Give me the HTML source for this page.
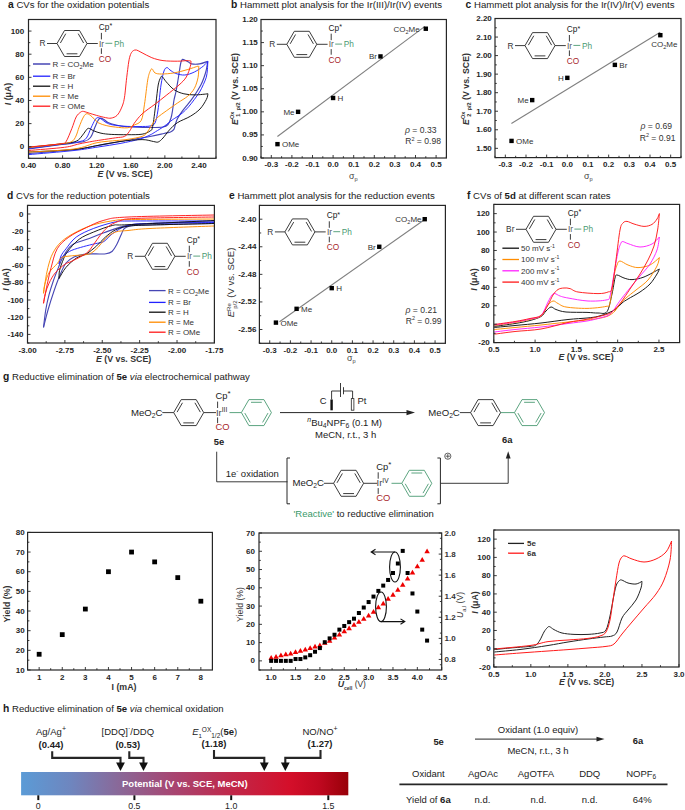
<!DOCTYPE html>
<html><head><meta charset="utf-8"><style>
html,body{margin:0;padding:0;background:#fff;}
svg{display:block;font-family:"Liberation Sans", sans-serif;}
</style></head><body>
<svg width="685" height="810" viewBox="0 0 685 810">
<rect width="685" height="810" fill="#fff"/>
<text x="8" y="8.2" font-size="9.6" fill="#1a1a1a"><tspan font-weight="bold" font-size="10.3">a</tspan> CVs for the oxidation potentials</text>
<path d="M28.70,149.00 C34.18,148.25 52.38,145.75 61.60,144.50 C70.82,143.25 79.13,142.75 84.00,141.50 C88.87,140.25 88.97,139.42 90.80,137.00 C92.63,134.58 93.80,129.75 95.00,127.00 C96.20,124.25 97.12,121.98 98.00,120.50 C98.88,119.02 99.30,118.27 100.30,118.10 C101.30,117.93 102.72,118.77 104.00,119.50 C105.28,120.23 106.17,121.62 108.00,122.50 C109.83,123.38 111.78,124.08 115.00,124.80 C118.22,125.52 121.47,126.35 127.30,126.80 C133.13,127.25 144.05,127.47 150.00,127.50 C155.95,127.53 160.00,127.50 163.00,127.00 C166.00,126.50 166.67,126.00 168.00,124.50 C169.33,123.00 170.23,120.42 171.00,118.00 C171.77,115.58 172.10,113.00 172.60,110.00 C173.10,107.00 173.45,103.00 174.00,100.00 C174.55,97.00 175.23,95.33 175.90,92.00 C176.57,88.67 177.38,83.70 178.00,80.00 C178.62,76.30 179.10,72.80 179.60,69.80 C180.10,66.80 180.50,63.73 181.00,62.00 C181.50,60.27 181.85,59.65 182.60,59.40 C183.35,59.15 184.52,60.07 185.50,60.50 C186.48,60.93 187.50,61.43 188.50,62.00 C189.50,62.57 189.65,63.58 191.50,63.90 C193.35,64.22 196.88,64.33 199.60,63.90 C202.32,63.47 206.43,61.73 207.80,61.30" stroke="#4646b4" stroke-width="1.15" fill="none" stroke-linejoin="round"/>
<path d="M207.80,61.30 C207.55,62.72 206.92,67.15 206.30,69.80 C205.68,72.45 204.97,74.73 204.10,77.20 C203.23,79.67 202.33,82.13 201.10,84.60 C199.87,87.07 198.18,89.65 196.70,92.00 C195.22,94.35 193.93,96.35 192.20,98.70 C190.47,101.05 188.15,103.75 186.30,106.10 C184.45,108.45 182.57,110.73 181.10,112.80 C179.63,114.87 178.43,116.63 177.50,118.50 C176.57,120.37 176.10,122.18 175.50,124.00 C174.90,125.82 174.73,128.07 173.90,129.40 C173.07,130.73 172.15,131.32 170.50,132.00 C168.85,132.68 167.42,132.75 164.00,133.50 C160.58,134.25 157.33,135.17 150.00,136.50 C142.67,137.83 128.67,140.00 120.00,141.50 C111.33,143.00 105.67,144.17 98.00,145.50 C90.33,146.83 85.55,148.17 74.00,149.50 C62.45,150.83 36.25,152.83 28.70,153.50" stroke="#4646b4" stroke-width="1.15" fill="none" stroke-linejoin="round"/>
<path d="M28.70,148.50 C34.18,147.78 53.05,145.37 61.60,144.20 C70.15,143.03 75.87,142.53 80.00,141.50 C84.13,140.47 84.57,140.25 86.40,138.00 C88.23,135.75 89.57,131.00 91.00,128.00 C92.43,125.00 93.87,121.73 95.00,120.00 C96.13,118.27 96.63,117.68 97.80,117.60 C98.97,117.52 100.63,118.68 102.00,119.50 C103.37,120.32 104.22,121.60 106.00,122.50 C107.78,123.40 109.15,124.25 112.70,124.90 C116.25,125.55 122.75,126.13 127.30,126.40 C131.85,126.67 136.22,126.57 140.00,126.50 C143.78,126.43 147.50,126.58 150.00,126.00 C152.50,125.42 153.67,125.67 155.00,123.00 C156.33,120.33 157.00,116.33 158.00,110.00 C159.00,103.67 160.00,91.50 161.00,85.00 C162.00,78.50 163.00,73.90 164.00,71.00 C165.00,68.10 166.00,67.77 167.00,67.60 C168.00,67.43 168.52,69.02 170.00,70.00 C171.48,70.98 173.43,72.67 175.90,73.50 C178.37,74.33 181.72,75.25 184.80,75.00 C187.88,74.75 191.32,73.48 194.40,72.00 C197.48,70.52 201.07,67.88 203.30,66.10 C205.53,64.32 207.05,62.10 207.80,61.30" stroke="#2222ff" stroke-width="0.95" fill="none" stroke-linejoin="round"/>
<path d="M207.80,61.30 C207.73,62.72 207.65,67.15 207.40,69.80 C207.15,72.45 206.98,74.73 206.30,77.20 C205.62,79.67 204.42,82.13 203.30,84.60 C202.18,87.07 201.08,89.53 199.60,92.00 C198.12,94.47 196.25,96.92 194.40,99.40 C192.55,101.88 190.47,104.67 188.50,106.90 C186.53,109.13 184.68,111.03 182.60,112.80 C180.52,114.57 177.73,116.30 176.00,117.50 C174.27,118.70 174.13,118.57 172.20,120.00 C170.27,121.43 167.17,124.15 164.40,126.10 C161.63,128.05 158.00,130.22 155.60,131.70 C153.20,133.18 152.60,133.78 150.00,135.00 C147.40,136.22 145.00,137.58 140.00,139.00 C135.00,140.42 127.00,142.17 120.00,143.50 C113.00,144.83 105.67,145.83 98.00,147.00 C90.33,148.17 85.55,149.23 74.00,150.50 C62.45,151.77 36.25,153.92 28.70,154.60" stroke="#2222ff" stroke-width="0.95" fill="none" stroke-linejoin="round"/>
<path d="M28.70,147.30 C34.18,146.72 53.68,144.82 61.60,143.80 C69.52,142.78 72.80,142.52 76.20,141.20 C79.60,139.88 80.42,137.63 82.00,135.90 C83.58,134.17 84.60,132.07 85.70,130.80 C86.80,129.53 87.27,128.30 88.60,128.30 C89.93,128.30 91.63,129.98 93.70,130.80 C95.77,131.62 98.08,132.60 101.00,133.20 C103.92,133.80 106.82,134.15 111.20,134.40 C115.58,134.65 122.15,134.73 127.30,134.70 C132.45,134.67 138.32,134.82 142.10,134.20 C145.88,133.58 148.25,132.25 150.00,131.00 C151.75,129.75 151.63,131.17 152.60,126.70 C153.57,122.23 154.87,111.15 155.80,104.20 C156.73,97.25 157.40,89.42 158.20,85.00 C159.00,80.58 159.93,79.10 160.60,77.70 C161.27,76.30 161.27,75.92 162.20,76.60 C163.13,77.28 164.20,79.60 166.20,81.80 C168.20,84.00 171.25,87.80 174.20,89.80 C177.15,91.80 180.42,92.95 183.90,93.80 C187.38,94.65 191.08,94.90 195.10,94.90 C199.12,94.90 205.85,93.98 208.00,93.80" stroke="#111" stroke-width="0.95" fill="none" stroke-linejoin="round"/>
<path d="M208.00,93.80 C207.73,94.73 207.73,96.87 206.40,99.40 C205.07,101.93 202.68,106.18 200.00,109.00 C197.32,111.82 194.07,114.02 190.30,116.30 C186.53,118.58 180.88,120.42 177.40,122.70 C173.92,124.98 171.80,127.45 169.40,130.00 C167.00,132.55 164.87,136.00 163.00,138.00 C161.13,140.00 159.80,141.42 158.20,142.00 C156.60,142.58 156.08,141.90 153.40,141.50 C150.72,141.10 147.67,139.60 142.10,139.60 C136.53,139.60 127.35,140.53 120.00,141.50 C112.65,142.47 105.67,144.07 98.00,145.40 C90.33,146.73 85.55,148.40 74.00,149.50 C62.45,150.60 36.25,151.58 28.70,152.00" stroke="#111" stroke-width="0.95" fill="none" stroke-linejoin="round"/>
<path d="M28.70,147.50 C34.18,146.88 54.42,144.80 61.60,143.80 C68.78,142.80 69.40,142.80 71.80,141.50 C74.20,140.20 74.78,138.40 76.00,136.00 C77.22,133.60 77.85,130.28 79.10,127.10 C80.35,123.92 82.17,119.13 83.50,116.90 C84.83,114.67 85.65,113.70 87.10,113.70 C88.55,113.70 90.37,115.40 92.20,116.90 C94.03,118.40 95.67,121.23 98.10,122.70 C100.53,124.17 103.88,124.97 106.80,125.70 C109.72,126.43 112.18,126.75 115.60,127.10 C119.02,127.45 124.22,128.13 127.30,127.80 C130.38,127.47 131.77,126.35 134.10,125.10 C136.43,123.85 139.57,123.78 141.30,120.30 C143.03,116.82 143.43,110.90 144.50,104.20 C145.57,97.50 146.77,85.58 147.70,80.10 C148.63,74.62 149.37,73.17 150.10,71.30 C150.83,69.43 151.28,68.63 152.10,68.90 C152.92,69.17 153.45,72.05 155.00,72.90 C156.55,73.75 158.20,74.00 161.40,74.00 C164.60,74.00 169.92,73.62 174.20,72.90 C178.48,72.18 183.08,70.85 187.10,69.70 C191.12,68.55 196.43,66.62 198.30,66.00" stroke="#ff8c00" stroke-width="0.95" fill="none" stroke-linejoin="round"/>
<path d="M198.80,66.00 C198.68,67.87 198.83,73.48 198.10,77.20 C197.37,80.92 196.12,85.15 194.40,88.30 C192.68,91.45 190.57,93.68 187.80,96.10 C185.03,98.52 181.32,100.38 177.80,102.80 C174.28,105.22 170.22,108.02 166.70,110.60 C163.18,113.18 159.30,115.72 156.70,118.30 C154.10,120.88 152.72,123.73 151.10,126.10 C149.48,128.47 148.52,130.78 147.00,132.50 C145.48,134.22 145.50,135.22 142.00,136.40 C138.50,137.58 133.33,138.58 126.00,139.60 C118.67,140.62 106.67,140.93 98.00,142.50 C89.33,144.07 85.55,147.40 74.00,149.00 C62.45,150.60 36.25,151.58 28.70,152.10" stroke="#ff8c00" stroke-width="0.95" fill="none" stroke-linejoin="round"/>
<path d="M28.70,147.00 C31.42,146.75 39.52,146.07 45.00,145.50 C50.48,144.93 58.10,144.23 61.60,143.60 C65.10,142.97 64.30,144.20 66.00,141.70 C67.70,139.20 70.10,132.73 71.80,128.60 C73.50,124.47 74.73,119.63 76.20,116.90 C77.67,114.17 79.38,113.12 80.60,112.20 C81.82,111.28 82.05,111.23 83.50,111.40 C84.95,111.57 87.12,112.53 89.30,113.20 C91.48,113.87 93.92,114.67 96.60,115.40 C99.28,116.13 102.97,117.15 105.40,117.60 C107.83,118.05 109.27,118.47 111.20,118.10 C113.13,117.73 115.30,117.07 117.00,115.40 C118.70,113.73 120.17,111.02 121.40,108.10 C122.63,105.18 123.47,103.42 124.40,97.90 C125.33,92.38 126.07,81.98 127.00,75.00 C127.93,68.02 128.68,60.17 130.00,56.00 C131.32,51.83 132.88,50.53 134.90,50.00 C136.92,49.47 139.28,51.52 142.10,52.80 C144.92,54.08 148.32,56.40 151.80,57.70 C155.28,59.00 158.73,60.02 163.00,60.60 C167.27,61.18 173.38,61.20 177.40,61.20 C181.42,61.20 184.83,60.63 187.10,60.60 C189.37,60.57 190.35,60.93 191.00,61.00" stroke="#ff1a1a" stroke-width="0.95" fill="none" stroke-linejoin="round"/>
<path d="M191.00,61.00 C190.88,61.92 191.08,63.83 190.30,66.50 C189.52,69.17 188.18,73.92 186.30,77.00 C184.42,80.08 182.35,81.93 179.00,85.00 C175.65,88.07 170.20,92.20 166.20,95.40 C162.20,98.60 159.02,101.12 155.00,104.20 C150.98,107.28 145.58,110.68 142.10,113.90 C138.62,117.12 136.23,120.57 134.10,123.50 C131.97,126.43 130.90,129.35 129.30,131.50 C127.70,133.65 126.78,135.35 124.50,136.40 C122.22,137.45 119.52,137.20 115.60,137.80 C111.68,138.40 104.90,139.40 101.00,140.00 C97.10,140.60 95.85,140.75 92.20,141.40 C88.55,142.05 83.72,142.92 79.10,143.90 C74.48,144.88 72.90,146.20 64.50,147.30 C56.10,148.40 34.67,149.97 28.70,150.50" stroke="#ff1a1a" stroke-width="0.95" fill="none" stroke-linejoin="round"/>
<path d="M214.00,223.50 C206.67,223.67 183.17,224.17 170.00,224.50 C156.83,224.83 142.50,224.92 135.00,225.50 C127.50,226.08 127.27,226.55 125.00,228.00 C122.73,229.45 122.73,231.53 121.40,234.20 C120.07,236.87 118.57,241.12 117.00,244.00 C115.43,246.88 113.83,249.87 112.00,251.50 C110.17,253.13 108.83,253.40 106.00,253.80 C103.17,254.20 98.67,253.82 95.00,253.90 C91.33,253.98 87.50,253.78 84.00,254.30 C80.50,254.82 77.00,255.55 74.00,257.00 C71.00,258.45 68.33,260.00 66.00,263.00 C63.67,266.00 62.00,270.33 60.00,275.00 C58.00,279.67 56.00,285.17 54.00,291.00 C52.00,296.83 49.75,303.93 48.00,310.00 C46.25,316.07 44.25,324.50 43.50,327.40" stroke="#4646b4" stroke-width="1.1" fill="none" stroke-linejoin="round"/>
<path d="M43.50,327.40 C43.88,324.43 44.88,315.02 45.80,309.60 C46.72,304.18 47.77,299.63 49.00,294.90 C50.23,290.17 51.63,285.75 53.20,281.20 C54.77,276.65 56.77,271.63 58.40,267.60 C60.03,263.57 60.77,260.75 63.00,257.00 C65.23,253.25 67.42,248.17 71.80,245.10 C76.18,242.03 83.95,240.67 89.30,238.60 C94.65,236.53 97.45,234.90 103.90,232.70 C110.35,230.50 118.65,227.02 128.00,225.40 C137.35,223.78 145.67,223.57 160.00,223.00 C174.33,222.43 205.00,222.17 214.00,222.00" stroke="#4646b4" stroke-width="1.1" fill="none" stroke-linejoin="round"/>
<path d="M214.00,222.50 C203.33,222.67 164.33,223.02 150.00,223.50 C135.67,223.98 134.22,223.73 128.00,225.40 C121.78,227.07 116.72,230.82 112.70,233.50 C108.68,236.18 106.82,239.80 103.90,241.50 C100.98,243.20 98.60,242.85 95.20,243.70 C91.80,244.55 87.40,245.50 83.50,246.60 C79.60,247.70 74.97,248.97 71.80,250.30 C68.63,251.63 66.38,253.15 64.50,254.60 C62.62,256.05 61.42,257.45 60.50,259.00 C59.58,260.55 59.25,263.08 59.00,263.90" stroke="#2222ff" stroke-width="0.95" fill="none" stroke-linejoin="round"/>
<path d="M59.00,263.90 C59.33,262.58 59.83,258.52 61.00,256.00 C62.17,253.48 63.47,251.95 66.00,248.80 C68.53,245.65 71.58,240.50 76.20,237.10 C80.82,233.70 87.13,230.95 93.70,228.40 C100.27,225.85 109.88,223.03 115.60,221.80 C121.32,220.57 111.60,221.13 128.00,221.00 C144.40,220.87 199.67,221.00 214.00,221.00" stroke="#2222ff" stroke-width="0.95" fill="none" stroke-linejoin="round"/>
<path d="M214.00,223.50 C203.33,223.75 164.33,224.55 150.00,225.00 C135.67,225.45 133.73,225.40 128.00,226.20 C122.27,227.00 119.37,227.98 115.60,229.80 C111.83,231.62 108.57,234.42 105.40,237.10 C102.23,239.78 99.77,243.10 96.60,245.90 C93.43,248.70 89.78,251.87 86.40,253.90 C83.02,255.93 79.73,255.82 76.30,258.10 C72.87,260.38 68.68,264.18 65.80,267.60 C62.92,271.02 60.13,276.77 59.00,278.60" stroke="#111" stroke-width="0.95" fill="none" stroke-linejoin="round"/>
<path d="M59.00,278.60 C59.08,277.28 58.90,273.58 59.50,270.70 C60.10,267.82 61.28,264.47 62.60,261.30 C63.92,258.13 64.65,255.37 67.40,251.70 C70.15,248.03 74.72,242.58 79.10,239.30 C83.48,236.02 88.10,234.32 93.70,232.00 C99.30,229.68 106.98,226.62 112.70,225.40 C118.42,224.18 111.12,225.52 128.00,224.70 C144.88,223.88 199.67,221.20 214.00,220.50" stroke="#111" stroke-width="0.95" fill="none" stroke-linejoin="round"/>
<path d="M214.00,226.00 C203.33,226.42 164.33,227.75 150.00,228.50 C135.67,229.25 133.73,229.92 128.00,230.50 C122.27,231.08 119.37,230.65 115.60,232.00 C111.83,233.35 108.32,236.05 105.40,238.60 C102.48,241.15 100.78,244.75 98.10,247.30 C95.42,249.85 92.95,252.55 89.30,253.90 C85.65,255.25 79.42,255.05 76.20,255.40 C72.98,255.75 72.43,255.63 70.00,256.00 C67.57,256.37 63.70,256.37 61.60,257.60 C59.50,258.83 59.50,260.87 57.40,263.40 C55.30,265.93 51.10,269.30 49.00,272.80 C46.90,276.30 45.72,280.98 44.80,284.40 C43.88,287.82 43.72,291.82 43.50,293.30" stroke="#ff8c00" stroke-width="0.95" fill="none" stroke-linejoin="round"/>
<path d="M43.50,293.30 C43.80,291.28 44.57,285.48 45.30,281.20 C46.03,276.92 46.65,272.27 47.90,267.60 C49.15,262.93 50.52,257.55 52.80,253.20 C55.08,248.85 57.70,245.03 61.60,241.50 C65.50,237.97 70.85,234.80 76.20,232.00 C81.55,229.20 87.13,226.65 93.70,224.70 C100.27,222.75 109.88,221.15 115.60,220.30 C121.32,219.45 111.60,219.82 128.00,219.60 C144.40,219.38 199.67,219.10 214.00,219.00" stroke="#ff8c00" stroke-width="0.95" fill="none" stroke-linejoin="round"/>
<path d="M214.00,217.00 C203.33,217.17 164.33,217.68 150.00,218.00 C135.67,218.32 132.77,218.52 128.00,218.90 C123.23,219.28 124.43,219.22 121.40,220.30 C118.37,221.38 113.20,223.08 109.80,225.40 C106.40,227.72 103.68,231.03 101.00,234.20 C98.32,237.37 96.13,241.23 93.70,244.40 C91.27,247.57 90.05,250.40 86.40,253.20 C82.75,256.00 75.42,259.33 71.80,261.20 C68.18,263.07 67.45,262.47 64.70,264.40 C61.95,266.33 57.92,269.65 55.30,272.80 C52.68,275.95 50.67,279.80 49.00,283.30 C47.33,286.80 46.22,290.47 45.30,293.80 C44.38,297.13 43.80,301.72 43.50,303.30" stroke="#ff1a1a" stroke-width="0.95" fill="none" stroke-linejoin="round"/>
<path d="M43.50,303.30 C43.80,301.72 44.57,297.48 45.30,293.80 C46.03,290.12 46.93,285.57 47.90,281.20 C48.87,276.83 49.55,273.00 51.10,267.60 C52.65,262.20 54.23,253.88 57.20,248.80 C60.17,243.72 64.03,240.63 68.90,237.10 C73.77,233.57 80.57,230.40 86.40,227.60 C92.23,224.80 96.97,222.07 103.90,220.30 C110.83,218.53 109.65,217.88 128.00,217.00 C146.35,216.12 199.67,215.33 214.00,215.00" stroke="#ff1a1a" stroke-width="0.95" fill="none" stroke-linejoin="round"/>
<path d="M494.30,326.40 C497.75,325.92 509.05,324.48 515.00,323.50 C520.95,322.52 525.67,321.67 530.00,320.50 C534.33,319.33 538.33,318.08 541.00,316.50 C543.67,314.92 544.33,312.58 546.00,311.00 C547.67,309.42 549.33,307.25 551.00,307.00 C552.67,306.75 553.50,308.67 556.00,309.50 C558.50,310.33 560.83,311.52 566.00,312.00 C571.17,312.48 581.67,312.23 587.00,312.40 C592.33,312.57 594.67,313.13 598.00,313.00 C601.33,312.87 604.67,314.77 607.00,311.60 C609.33,308.43 610.67,299.60 612.00,294.00 C613.33,288.40 614.17,281.17 615.00,278.00 C615.83,274.83 615.50,275.00 617.00,275.00 C618.50,275.00 621.50,277.23 624.00,278.00 C626.50,278.77 628.67,279.77 632.00,279.60 C635.33,279.43 639.43,278.77 644.00,277.00 C648.57,275.23 656.83,270.33 659.40,269.00" stroke="#111" stroke-width="0.95" fill="none" stroke-linejoin="round"/>
<path d="M659.40,269.00 C659.00,269.83 658.57,271.50 657.00,274.00 C655.43,276.50 652.83,281.00 650.00,284.00 C647.17,287.00 643.67,289.50 640.00,292.00 C636.33,294.50 631.00,297.17 628.00,299.00 C625.00,300.83 624.00,301.33 622.00,303.00 C620.00,304.67 618.33,307.33 616.00,309.00 C613.67,310.67 611.00,311.77 608.00,313.00 C605.00,314.23 601.50,315.57 598.00,316.40 C594.50,317.23 592.00,317.48 587.00,318.00 C582.00,318.52 575.67,318.67 568.00,319.50 C560.33,320.33 549.83,322.00 541.00,323.00 C532.17,324.00 522.78,324.75 515.00,325.50 C507.22,326.25 497.75,327.17 494.30,327.50" stroke="#111" stroke-width="0.95" fill="none" stroke-linejoin="round"/>
<path d="M494.30,325.50 C497.75,325.00 509.05,323.50 515.00,322.50 C520.95,321.50 525.67,320.58 530.00,319.50 C534.33,318.42 538.17,318.25 541.00,316.00 C543.83,313.75 545.00,308.50 547.00,306.00 C549.00,303.50 551.17,301.42 553.00,301.00 C554.83,300.58 555.83,302.50 558.00,303.50 C560.17,304.50 561.17,306.18 566.00,307.00 C570.83,307.82 580.33,308.50 587.00,308.40 C593.67,308.30 602.17,307.30 606.00,306.40 C609.83,305.50 608.67,308.07 610.00,303.00 C611.33,297.93 612.83,282.33 614.00,276.00 C615.17,269.67 616.00,267.50 617.00,265.00 C618.00,262.50 618.17,261.00 620.00,261.00 C621.83,261.00 625.00,263.90 628.00,265.00 C631.00,266.10 634.33,267.60 638.00,267.60 C641.67,267.60 646.43,266.67 650.00,265.00 C653.57,263.33 657.83,258.83 659.40,257.60" stroke="#ff8c00" stroke-width="0.95" fill="none" stroke-linejoin="round"/>
<path d="M659.40,257.60 C659.00,259.00 658.90,262.27 657.00,266.00 C655.10,269.73 651.50,276.00 648.00,280.00 C644.50,284.00 639.67,287.00 636.00,290.00 C632.33,293.00 628.83,295.50 626.00,298.00 C623.17,300.50 620.83,302.83 619.00,305.00 C617.17,307.17 616.83,309.17 615.00,311.00 C613.17,312.83 610.83,314.75 608.00,316.00 C605.17,317.25 601.50,317.83 598.00,318.50 C594.50,319.17 592.00,319.42 587.00,320.00 C582.00,320.58 575.67,321.17 568.00,322.00 C560.33,322.83 549.83,324.08 541.00,325.00 C532.17,325.92 522.78,326.75 515.00,327.50 C507.22,328.25 497.75,329.17 494.30,329.50" stroke="#ff8c00" stroke-width="0.95" fill="none" stroke-linejoin="round"/>
<path d="M494.30,325.00 C497.75,324.50 509.05,323.00 515.00,322.00 C520.95,321.00 525.67,320.08 530.00,319.00 C534.33,317.92 538.00,318.33 541.00,315.50 C544.00,312.67 546.17,305.42 548.00,302.00 C549.83,298.58 550.83,296.40 552.00,295.00 C553.17,293.60 553.67,293.43 555.00,293.60 C556.33,293.77 557.83,295.27 560.00,296.00 C562.17,296.73 563.33,297.17 568.00,298.00 C572.67,298.83 581.67,300.67 588.00,301.00 C594.33,301.33 602.33,300.83 606.00,300.00 C609.67,299.17 608.67,300.33 610.00,296.00 C611.33,291.67 612.67,281.33 614.00,274.00 C615.33,266.67 616.83,257.17 618.00,252.00 C619.17,246.83 620.17,244.73 621.00,243.00 C621.83,241.27 621.83,241.50 623.00,241.60 C624.17,241.70 625.17,242.70 628.00,243.60 C630.83,244.50 636.00,246.93 640.00,247.00 C644.00,247.07 648.77,245.67 652.00,244.00 C655.23,242.33 658.17,238.17 659.40,237.00" stroke="#ff22ff" stroke-width="0.95" fill="none" stroke-linejoin="round"/>
<path d="M659.40,237.00 C659.00,239.17 658.57,245.50 657.00,250.00 C655.43,254.50 652.83,259.67 650.00,264.00 C647.17,268.33 643.33,272.00 640.00,276.00 C636.67,280.00 633.00,284.33 630.00,288.00 C627.00,291.67 624.17,295.17 622.00,298.00 C619.83,300.83 618.50,302.83 617.00,305.00 C615.50,307.17 614.50,309.25 613.00,311.00 C611.50,312.75 610.50,314.25 608.00,315.50 C605.50,316.75 601.50,317.58 598.00,318.50 C594.50,319.42 592.00,320.17 587.00,321.00 C582.00,321.83 575.67,322.50 568.00,323.50 C560.33,324.50 549.83,326.00 541.00,327.00 C532.17,328.00 522.78,328.67 515.00,329.50 C507.22,330.33 497.75,331.58 494.30,332.00" stroke="#ff22ff" stroke-width="0.95" fill="none" stroke-linejoin="round"/>
<path d="M494.30,324.50 C497.75,324.00 509.05,322.50 515.00,321.50 C520.95,320.50 525.67,319.50 530.00,318.50 C534.33,317.50 538.00,317.75 541.00,315.50 C544.00,313.25 546.00,308.42 548.00,305.00 C550.00,301.58 551.33,297.58 553.00,295.00 C554.67,292.42 556.17,290.67 558.00,289.50 C559.83,288.33 562.00,288.15 564.00,288.00 C566.00,287.85 567.67,287.93 570.00,288.60 C572.33,289.27 573.33,291.17 578.00,292.00 C582.67,292.83 593.00,293.60 598.00,293.60 C603.00,293.60 605.67,292.93 608.00,292.00 C610.33,291.07 610.67,293.33 612.00,288.00 C613.33,282.67 614.67,269.67 616.00,260.00 C617.33,250.33 618.83,236.17 620.00,230.00 C621.17,223.83 621.83,224.43 623.00,223.00 C624.17,221.57 625.17,221.23 627.00,221.40 C628.83,221.57 631.17,223.17 634.00,224.00 C636.83,224.83 641.00,226.33 644.00,226.40 C647.00,226.47 649.83,225.63 652.00,224.40 C654.17,223.17 655.77,220.80 657.00,219.00 C658.23,217.20 659.00,214.50 659.40,213.60" stroke="#ff1a1a" stroke-width="0.95" fill="none" stroke-linejoin="round"/>
<path d="M659.40,213.60 C659.10,216.33 658.50,224.60 657.60,230.00 C656.70,235.40 655.60,241.00 654.00,246.00 C652.40,251.00 650.33,255.33 648.00,260.00 C645.67,264.67 642.67,269.67 640.00,274.00 C637.33,278.33 634.67,282.00 632.00,286.00 C629.33,290.00 626.17,294.83 624.00,298.00 C621.83,301.17 620.67,303.00 619.00,305.00 C617.33,307.00 615.83,308.50 614.00,310.00 C612.17,311.50 612.33,312.50 608.00,314.00 C603.67,315.50 594.67,317.58 588.00,319.00 C581.33,320.42 575.83,320.83 568.00,322.50 C560.17,324.17 549.83,327.50 541.00,329.00 C532.17,330.50 522.78,330.63 515.00,331.50 C507.22,332.37 497.75,333.75 494.30,334.20" stroke="#ff1a1a" stroke-width="0.95" fill="none" stroke-linejoin="round"/>
<path d="M494.30,649.60 C496.92,649.33 504.05,648.53 510.00,648.00 C515.95,647.47 525.67,646.90 530.00,646.40 C534.33,645.90 534.33,646.07 536.00,645.00 C537.67,643.93 538.67,642.17 540.00,640.00 C541.33,637.83 542.83,634.00 544.00,632.00 C545.17,630.00 546.10,628.90 547.00,628.00 C547.90,627.10 548.23,626.33 549.40,626.60 C550.57,626.87 551.90,628.53 554.00,629.60 C556.10,630.67 558.67,632.20 562.00,633.00 C565.33,633.80 569.67,634.17 574.00,634.40 C578.33,634.63 583.67,634.63 588.00,634.40 C592.33,634.17 597.00,633.73 600.00,633.00 C603.00,632.27 604.33,632.83 606.00,630.00 C607.67,627.17 608.83,621.00 610.00,616.00 C611.17,611.00 612.00,605.00 613.00,600.00 C614.00,595.00 615.00,589.17 616.00,586.00 C617.00,582.83 618.07,582.00 619.00,581.00 C619.93,580.00 620.10,579.67 621.60,580.00 C623.10,580.33 625.60,582.33 628.00,583.00 C630.40,583.67 633.67,584.27 636.00,584.00 C638.33,583.73 641.00,581.83 642.00,581.40" stroke="#222" stroke-width="1.0" fill="none" stroke-linejoin="round"/>
<path d="M642.00,581.40 C641.83,582.50 642.00,584.90 641.00,588.00 C640.00,591.10 638.17,596.33 636.00,600.00 C633.83,603.67 630.33,607.00 628.00,610.00 C625.67,613.00 623.83,614.33 622.00,618.00 C620.17,621.67 618.67,629.00 617.00,632.00 C615.33,635.00 614.17,635.17 612.00,636.00 C609.83,636.83 608.00,636.50 604.00,637.00 C600.00,637.50 594.00,638.17 588.00,639.00 C582.00,639.83 574.67,640.92 568.00,642.00 C561.33,643.08 556.00,644.25 548.00,645.50 C540.00,646.75 528.95,648.42 520.00,649.50 C511.05,650.58 498.58,651.58 494.30,652.00" stroke="#222" stroke-width="1.0" fill="none" stroke-linejoin="round"/>
<path d="M494.30,649.00 C500.25,648.42 521.05,646.73 530.00,645.50 C538.95,644.27 541.67,642.52 548.00,641.60 C554.33,640.68 561.33,640.53 568.00,640.00 C574.67,639.47 582.67,639.07 588.00,638.40 C593.33,637.73 597.00,637.07 600.00,636.00 C603.00,634.93 604.33,634.67 606.00,632.00 C607.67,629.33 608.83,625.33 610.00,620.00 C611.17,614.67 612.00,606.67 613.00,600.00 C614.00,593.33 615.00,586.17 616.00,580.00 C617.00,573.83 618.00,566.83 619.00,563.00 C620.00,559.17 621.00,558.17 622.00,557.00 C623.00,555.83 623.33,555.67 625.00,556.00 C626.67,556.33 628.83,558.00 632.00,559.00 C635.17,560.00 640.00,562.00 644.00,562.00 C648.00,562.00 652.33,560.67 656.00,559.00 C659.67,557.33 663.40,555.00 666.00,552.00 C668.60,549.00 670.67,542.83 671.60,541.00" stroke="#ff1a1a" stroke-width="1.0" fill="none" stroke-linejoin="round"/>
<path d="M671.60,541.00 C671.33,544.17 671.27,553.50 670.00,560.00 C668.73,566.50 666.33,574.33 664.00,580.00 C661.67,585.67 659.33,589.33 656.00,594.00 C652.67,598.67 648.00,603.33 644.00,608.00 C640.00,612.67 635.67,617.67 632.00,622.00 C628.33,626.33 625.00,630.33 622.00,634.00 C619.00,637.67 616.67,641.93 614.00,644.00 C611.33,646.07 610.33,645.73 606.00,646.40 C601.67,647.07 594.33,647.47 588.00,648.00 C581.67,648.53 574.67,649.10 568.00,649.60 C561.33,650.10 556.00,650.43 548.00,651.00 C540.00,651.57 528.95,652.33 520.00,653.00 C511.05,653.67 498.58,654.67 494.30,655.00" stroke="#ff1a1a" stroke-width="1.0" fill="none" stroke-linejoin="round"/>
<line x1="45.55" y1="158.30" x2="45.55" y2="156.50" stroke="#262626" stroke-width="0.9" />
<line x1="79.64" y1="158.30" x2="79.64" y2="156.50" stroke="#262626" stroke-width="0.9" />
<line x1="113.73" y1="158.30" x2="113.73" y2="156.50" stroke="#262626" stroke-width="0.9" />
<line x1="147.82" y1="158.30" x2="147.82" y2="156.50" stroke="#262626" stroke-width="0.9" />
<line x1="181.91" y1="158.30" x2="181.91" y2="156.50" stroke="#262626" stroke-width="0.9" />
<line x1="216.00" y1="158.30" x2="216.00" y2="156.50" stroke="#262626" stroke-width="0.9" />
<line x1="28.50" y1="158.30" x2="28.50" y2="155.30" stroke="#262626" stroke-width="0.9" />
<line x1="62.59" y1="158.30" x2="62.59" y2="155.30" stroke="#262626" stroke-width="0.9" />
<line x1="96.68" y1="158.30" x2="96.68" y2="155.30" stroke="#262626" stroke-width="0.9" />
<line x1="130.77" y1="158.30" x2="130.77" y2="155.30" stroke="#262626" stroke-width="0.9" />
<line x1="164.86" y1="158.30" x2="164.86" y2="155.30" stroke="#262626" stroke-width="0.9" />
<line x1="198.95" y1="158.30" x2="198.95" y2="155.30" stroke="#262626" stroke-width="0.9" />
<line x1="28.50" y1="158.30" x2="30.30" y2="158.30" stroke="#262626" stroke-width="0.9" />
<line x1="28.50" y1="135.17" x2="30.30" y2="135.17" stroke="#262626" stroke-width="0.9" />
<line x1="28.50" y1="112.03" x2="30.30" y2="112.03" stroke="#262626" stroke-width="0.9" />
<line x1="28.50" y1="88.90" x2="30.30" y2="88.90" stroke="#262626" stroke-width="0.9" />
<line x1="28.50" y1="65.77" x2="30.30" y2="65.77" stroke="#262626" stroke-width="0.9" />
<line x1="28.50" y1="42.63" x2="30.30" y2="42.63" stroke="#262626" stroke-width="0.9" />
<line x1="28.50" y1="19.50" x2="30.30" y2="19.50" stroke="#262626" stroke-width="0.9" />
<line x1="28.50" y1="146.73" x2="31.50" y2="146.73" stroke="#262626" stroke-width="0.9" />
<line x1="28.50" y1="123.60" x2="31.50" y2="123.60" stroke="#262626" stroke-width="0.9" />
<line x1="28.50" y1="100.47" x2="31.50" y2="100.47" stroke="#262626" stroke-width="0.9" />
<line x1="28.50" y1="77.33" x2="31.50" y2="77.33" stroke="#262626" stroke-width="0.9" />
<line x1="28.50" y1="54.20" x2="31.50" y2="54.20" stroke="#262626" stroke-width="0.9" />
<line x1="28.50" y1="31.07" x2="31.50" y2="31.07" stroke="#262626" stroke-width="0.9" />
<rect x="28.50" y="19.50" width="187.50" height="138.80" fill="none" stroke="#262626" stroke-width="1.2" />
<text x="28.50" y="168.10" font-size="8.0" font-weight="bold" font-style="normal" text-anchor="middle" fill="#262626" >0.40</text>
<text x="62.59" y="168.10" font-size="8.0" font-weight="bold" font-style="normal" text-anchor="middle" fill="#262626" >0.80</text>
<text x="96.68" y="168.10" font-size="8.0" font-weight="bold" font-style="normal" text-anchor="middle" fill="#262626" >1.20</text>
<text x="130.77" y="168.10" font-size="8.0" font-weight="bold" font-style="normal" text-anchor="middle" fill="#262626" >1.60</text>
<text x="164.86" y="168.10" font-size="8.0" font-weight="bold" font-style="normal" text-anchor="middle" fill="#262626" >2.00</text>
<text x="198.95" y="168.10" font-size="8.0" font-weight="bold" font-style="normal" text-anchor="middle" fill="#262626" >2.40</text>
<text x="24.20" y="149.23" font-size="8.0" font-weight="bold" font-style="normal" text-anchor="end" fill="#262626" >0</text>
<text x="24.20" y="126.10" font-size="8.0" font-weight="bold" font-style="normal" text-anchor="end" fill="#262626" >20</text>
<text x="24.20" y="102.97" font-size="8.0" font-weight="bold" font-style="normal" text-anchor="end" fill="#262626" >40</text>
<text x="24.20" y="79.83" font-size="8.0" font-weight="bold" font-style="normal" text-anchor="end" fill="#262626" >60</text>
<text x="24.20" y="56.70" font-size="8.0" font-weight="bold" font-style="normal" text-anchor="end" fill="#262626" >80</text>
<text x="24.20" y="33.57" font-size="8.0" font-weight="bold" font-style="normal" text-anchor="end" fill="#262626" >100</text>
<text x="122.00" y="177.00" font-size="8.8" font-weight="normal" font-style="normal" text-anchor="start" fill="#262626" ></text>
<text x="97.4" y="177.2" font-size="8.8" font-weight="bold" fill="#333"><tspan font-style="italic">E</tspan> (V vs. SCE)</text>
<text x="0" y="0" transform="translate(10.50,94.00) rotate(-90)" font-size="8.8" font-weight="bold" text-anchor="middle" fill="#333"><tspan font-style="italic">I</tspan> (μA)</text>
<path d="M57.00,43.50 L64.50,30.51 L79.50,30.51 L87.00,43.50 L79.50,56.49 L64.50,56.49 Z" stroke="#262626" stroke-width="0.9" fill="none" stroke-linejoin="miter"/>
<line x1="60.39" y1="43.03" x2="65.79" y2="33.68" stroke="#262626" stroke-width="0.9" />
<line x1="78.21" y1="33.68" x2="83.61" y2="43.03" stroke="#262626" stroke-width="0.9" />
<line x1="77.40" y1="53.79" x2="66.60" y2="53.79" stroke="#262626" stroke-width="0.9" />
<text x="45.40" y="46.40" font-size="8.3" font-weight="normal" font-style="normal" text-anchor="end" fill="#333" >R</text>
<line x1="47.00" y1="43.50" x2="57.00" y2="43.50" stroke="#262626" stroke-width="0.9" />
<line x1="87.00" y1="43.50" x2="97.80" y2="43.50" stroke="#262626" stroke-width="0.9" />
<text x="99.00" y="46.50" font-size="8.3" font-weight="normal" font-style="normal" text-anchor="start" fill="#555" >Ir</text>
<line x1="101.40" y1="32.90" x2="101.40" y2="39.40" stroke="#262626" stroke-width="0.9" />
<line x1="101.40" y1="48.30" x2="101.40" y2="53.90" stroke="#262626" stroke-width="0.9" />
<text x="98.80" y="29.90" font-size="8.3" fill="#222">Cp<tspan font-size="7.1" dy="-1.5">*</tspan></text>
<text x="98.80" y="61.70" font-size="8.3" font-weight="normal" font-style="normal" text-anchor="start" fill="#a8262c" >CO</text>
<line x1="105.40" y1="43.30" x2="112.30" y2="43.30" stroke="#4a9a72" stroke-width="0.9" />
<text x="113.90" y="46.50" font-size="8.3" font-weight="normal" font-style="normal" text-anchor="start" fill="#4a9a72" >Ph</text>
<line x1="33.00" y1="64.00" x2="50.30" y2="64.00" stroke="#4646b4" stroke-width="1.5" />
<text x="52.6" y="66.90" font-size="8" fill="#333">R = CO<tspan font-size="5.5" dy="2">2</tspan><tspan dy="-2">Me</tspan></text>
<line x1="33.00" y1="76.20" x2="50.30" y2="76.20" stroke="#2222ff" stroke-width="1.3" />
<text x="52.6" y="79.10" font-size="8" fill="#333">R = Br</text>
<line x1="33.00" y1="86.20" x2="50.30" y2="86.20" stroke="#111" stroke-width="1.3" />
<text x="52.6" y="89.10" font-size="8" fill="#333">R = H</text>
<line x1="33.00" y1="96.20" x2="50.30" y2="96.20" stroke="#ff8c00" stroke-width="1.3" />
<text x="52.6" y="99.10" font-size="8" fill="#333">R = Me</text>
<line x1="33.00" y1="106.20" x2="50.30" y2="106.20" stroke="#ff1a1a" stroke-width="1.3" />
<text x="52.6" y="109.10" font-size="8" fill="#333">R = OMe</text>
<text x="231" y="8.2" font-size="9.6" fill="#1a1a1a"><tspan font-weight="bold" font-size="10.3">b</tspan> Hammett plot analysis for the Ir(III)/Ir(IV) events</text>
<line x1="277.40" y1="136.50" x2="424.90" y2="26.40" stroke="#808080" stroke-width="1.1" />
<line x1="261.00" y1="158.00" x2="261.00" y2="156.20" stroke="#262626" stroke-width="0.9" />
<line x1="281.60" y1="158.00" x2="281.60" y2="156.20" stroke="#262626" stroke-width="0.9" />
<line x1="302.20" y1="158.00" x2="302.20" y2="156.20" stroke="#262626" stroke-width="0.9" />
<line x1="322.80" y1="158.00" x2="322.80" y2="156.20" stroke="#262626" stroke-width="0.9" />
<line x1="343.40" y1="158.00" x2="343.40" y2="156.20" stroke="#262626" stroke-width="0.9" />
<line x1="364.00" y1="158.00" x2="364.00" y2="156.20" stroke="#262626" stroke-width="0.9" />
<line x1="384.60" y1="158.00" x2="384.60" y2="156.20" stroke="#262626" stroke-width="0.9" />
<line x1="405.20" y1="158.00" x2="405.20" y2="156.20" stroke="#262626" stroke-width="0.9" />
<line x1="425.80" y1="158.00" x2="425.80" y2="156.20" stroke="#262626" stroke-width="0.9" />
<line x1="446.40" y1="158.00" x2="446.40" y2="156.20" stroke="#262626" stroke-width="0.9" />
<line x1="271.30" y1="158.00" x2="271.30" y2="155.00" stroke="#262626" stroke-width="0.9" />
<line x1="291.90" y1="158.00" x2="291.90" y2="155.00" stroke="#262626" stroke-width="0.9" />
<line x1="312.50" y1="158.00" x2="312.50" y2="155.00" stroke="#262626" stroke-width="0.9" />
<line x1="333.10" y1="158.00" x2="333.10" y2="155.00" stroke="#262626" stroke-width="0.9" />
<line x1="353.70" y1="158.00" x2="353.70" y2="155.00" stroke="#262626" stroke-width="0.9" />
<line x1="374.30" y1="158.00" x2="374.30" y2="155.00" stroke="#262626" stroke-width="0.9" />
<line x1="394.90" y1="158.00" x2="394.90" y2="155.00" stroke="#262626" stroke-width="0.9" />
<line x1="415.50" y1="158.00" x2="415.50" y2="155.00" stroke="#262626" stroke-width="0.9" />
<line x1="436.10" y1="158.00" x2="436.10" y2="155.00" stroke="#262626" stroke-width="0.9" />
<line x1="261.00" y1="146.46" x2="262.80" y2="146.46" stroke="#262626" stroke-width="0.9" />
<line x1="261.00" y1="123.37" x2="262.80" y2="123.37" stroke="#262626" stroke-width="0.9" />
<line x1="261.00" y1="100.29" x2="262.80" y2="100.29" stroke="#262626" stroke-width="0.9" />
<line x1="261.00" y1="77.21" x2="262.80" y2="77.21" stroke="#262626" stroke-width="0.9" />
<line x1="261.00" y1="54.12" x2="262.80" y2="54.12" stroke="#262626" stroke-width="0.9" />
<line x1="261.00" y1="31.04" x2="262.80" y2="31.04" stroke="#262626" stroke-width="0.9" />
<line x1="261.00" y1="158.00" x2="264.00" y2="158.00" stroke="#262626" stroke-width="0.9" />
<line x1="261.00" y1="134.92" x2="264.00" y2="134.92" stroke="#262626" stroke-width="0.9" />
<line x1="261.00" y1="111.83" x2="264.00" y2="111.83" stroke="#262626" stroke-width="0.9" />
<line x1="261.00" y1="88.75" x2="264.00" y2="88.75" stroke="#262626" stroke-width="0.9" />
<line x1="261.00" y1="65.67" x2="264.00" y2="65.67" stroke="#262626" stroke-width="0.9" />
<line x1="261.00" y1="42.58" x2="264.00" y2="42.58" stroke="#262626" stroke-width="0.9" />
<line x1="261.00" y1="19.50" x2="264.00" y2="19.50" stroke="#262626" stroke-width="0.9" />
<rect x="261.00" y="19.50" width="185.40" height="138.50" fill="none" stroke="#262626" stroke-width="1.2" />
<text x="271.30" y="167.20" font-size="8.0" font-weight="bold" font-style="normal" text-anchor="middle" fill="#262626" >-0.3</text>
<text x="291.90" y="167.20" font-size="8.0" font-weight="bold" font-style="normal" text-anchor="middle" fill="#262626" >-0.2</text>
<text x="312.50" y="167.20" font-size="8.0" font-weight="bold" font-style="normal" text-anchor="middle" fill="#262626" >-0.1</text>
<text x="333.10" y="167.20" font-size="8.0" font-weight="bold" font-style="normal" text-anchor="middle" fill="#262626" >0.0</text>
<text x="353.70" y="167.20" font-size="8.0" font-weight="bold" font-style="normal" text-anchor="middle" fill="#262626" >0.1</text>
<text x="374.30" y="167.20" font-size="8.0" font-weight="bold" font-style="normal" text-anchor="middle" fill="#262626" >0.2</text>
<text x="394.90" y="167.20" font-size="8.0" font-weight="bold" font-style="normal" text-anchor="middle" fill="#262626" >0.3</text>
<text x="415.50" y="167.20" font-size="8.0" font-weight="bold" font-style="normal" text-anchor="middle" fill="#262626" >0.4</text>
<text x="436.10" y="167.20" font-size="8.0" font-weight="bold" font-style="normal" text-anchor="middle" fill="#262626" >0.5</text>
<text x="257.80" y="160.50" font-size="8.0" font-weight="bold" font-style="normal" text-anchor="end" fill="#262626" >0.90</text>
<text x="257.80" y="137.42" font-size="8.0" font-weight="bold" font-style="normal" text-anchor="end" fill="#262626" >0.95</text>
<text x="257.80" y="114.33" font-size="8.0" font-weight="bold" font-style="normal" text-anchor="end" fill="#262626" >1.00</text>
<text x="257.80" y="91.25" font-size="8.0" font-weight="bold" font-style="normal" text-anchor="end" fill="#262626" >1.05</text>
<text x="257.80" y="68.17" font-size="8.0" font-weight="bold" font-style="normal" text-anchor="end" fill="#262626" >1.10</text>
<text x="257.80" y="45.08" font-size="8.0" font-weight="bold" font-style="normal" text-anchor="end" fill="#262626" >1.15</text>
<text x="257.80" y="22.00" font-size="8.0" font-weight="bold" font-style="normal" text-anchor="end" fill="#262626" >1.20</text>
<rect x="275.28" y="141.95" width="4.40" height="4.40" fill="#000" stroke="none" stroke-width="1" />
<rect x="295.88" y="109.63" width="4.40" height="4.40" fill="#000" stroke="none" stroke-width="1" />
<rect x="330.90" y="95.78" width="4.40" height="4.40" fill="#000" stroke="none" stroke-width="1" />
<rect x="378.28" y="54.23" width="4.40" height="4.40" fill="#000" stroke="none" stroke-width="1" />
<rect x="423.60" y="26.53" width="4.40" height="4.40" fill="#000" stroke="none" stroke-width="1" />
<path d="M286.80,44.30 L294.30,31.31 L309.30,31.31 L316.80,44.30 L309.30,57.29 L294.30,57.29 Z" stroke="#262626" stroke-width="0.9" fill="none" stroke-linejoin="miter"/>
<line x1="290.19" y1="43.83" x2="295.59" y2="34.48" stroke="#262626" stroke-width="0.9" />
<line x1="308.01" y1="34.48" x2="313.41" y2="43.83" stroke="#262626" stroke-width="0.9" />
<line x1="307.20" y1="54.59" x2="296.40" y2="54.59" stroke="#262626" stroke-width="0.9" />
<text x="275.20" y="47.20" font-size="8.3" font-weight="normal" font-style="normal" text-anchor="end" fill="#333" >R</text>
<line x1="276.80" y1="44.30" x2="286.80" y2="44.30" stroke="#262626" stroke-width="0.9" />
<line x1="316.80" y1="44.30" x2="327.60" y2="44.30" stroke="#262626" stroke-width="0.9" />
<text x="328.80" y="47.30" font-size="8.3" font-weight="normal" font-style="normal" text-anchor="start" fill="#555" >Ir</text>
<line x1="331.20" y1="33.70" x2="331.20" y2="40.20" stroke="#262626" stroke-width="0.9" />
<line x1="331.20" y1="49.10" x2="331.20" y2="54.70" stroke="#262626" stroke-width="0.9" />
<text x="328.60" y="30.70" font-size="8.3" fill="#222">Cp<tspan font-size="7.1" dy="-1.5">*</tspan></text>
<text x="328.60" y="62.50" font-size="8.3" font-weight="normal" font-style="normal" text-anchor="start" fill="#a8262c" >CO</text>
<line x1="335.20" y1="44.10" x2="342.10" y2="44.10" stroke="#4a9a72" stroke-width="0.9" />
<text x="343.70" y="47.30" font-size="8.3" font-weight="normal" font-style="normal" text-anchor="start" fill="#4a9a72" >Ph</text>
<text x="281.98" y="147.15" font-size="8" font-weight="normal" font-style="normal" text-anchor="start" fill="#333" >OMe</text>
<text x="294.58" y="114.83" font-size="8" font-weight="normal" font-style="normal" text-anchor="end" fill="#333" >Me</text>
<text x="337.60" y="100.98" font-size="8" font-weight="normal" font-style="normal" text-anchor="start" fill="#333" >H</text>
<text x="376.98" y="59.43" font-size="8" font-weight="normal" font-style="normal" text-anchor="end" fill="#333" >Br</text>
<text x="419.6" y="31.73" font-size="8" text-anchor="end" fill="#333">CO<tspan font-size="5.5" dy="2">2</tspan><tspan dy="-2">Me</tspan></text>
<text x="436.5" y="132.8" font-size="8.6" text-anchor="end" fill="#333"><tspan font-style="italic">ρ</tspan> = 0.33</text>
<text x="441" y="144" font-size="8.6" text-anchor="end" fill="#333">R<tspan font-size="5.5" dy="-3.5">2</tspan><tspan dy="3.5"> = 0.98</tspan></text>
<text x="349" y="178.5" font-size="8.8" fill="#444">σ<tspan font-size="5.6" dy="2">p</tspan></text>
<text x="0" y="0" transform="translate(237.60,89.00) rotate(-90)" font-size="8.8" font-weight="bold" text-anchor="middle" fill="#333"><tspan font-style="italic">E</tspan><tspan font-size="5.6" dy="-3.3">Ox</tspan><tspan font-size="5.6" dy="5.5" dx="-5">1</tspan><tspan font-size="5.6" dy="0" dx="3">p/2</tspan><tspan dy="-2.2"> (V vs. SCE)</tspan></text>
<text x="465.6" y="8.2" font-size="9.6" fill="#1a1a1a"><tspan font-weight="bold" font-size="10.3">c</tspan> Hammett plot analysis for the Ir(IV)/Ir(V) events</text>
<line x1="511.40" y1="123.50" x2="660.20" y2="32.30" stroke="#808080" stroke-width="1.1" />
<line x1="495.00" y1="157.60" x2="495.00" y2="155.80" stroke="#262626" stroke-width="0.9" />
<line x1="515.67" y1="157.60" x2="515.67" y2="155.80" stroke="#262626" stroke-width="0.9" />
<line x1="536.33" y1="157.60" x2="536.33" y2="155.80" stroke="#262626" stroke-width="0.9" />
<line x1="557.00" y1="157.60" x2="557.00" y2="155.80" stroke="#262626" stroke-width="0.9" />
<line x1="577.67" y1="157.60" x2="577.67" y2="155.80" stroke="#262626" stroke-width="0.9" />
<line x1="598.33" y1="157.60" x2="598.33" y2="155.80" stroke="#262626" stroke-width="0.9" />
<line x1="619.00" y1="157.60" x2="619.00" y2="155.80" stroke="#262626" stroke-width="0.9" />
<line x1="639.67" y1="157.60" x2="639.67" y2="155.80" stroke="#262626" stroke-width="0.9" />
<line x1="660.33" y1="157.60" x2="660.33" y2="155.80" stroke="#262626" stroke-width="0.9" />
<line x1="681.00" y1="157.60" x2="681.00" y2="155.80" stroke="#262626" stroke-width="0.9" />
<line x1="505.33" y1="157.60" x2="505.33" y2="154.60" stroke="#262626" stroke-width="0.9" />
<line x1="526.00" y1="157.60" x2="526.00" y2="154.60" stroke="#262626" stroke-width="0.9" />
<line x1="546.67" y1="157.60" x2="546.67" y2="154.60" stroke="#262626" stroke-width="0.9" />
<line x1="567.33" y1="157.60" x2="567.33" y2="154.60" stroke="#262626" stroke-width="0.9" />
<line x1="588.00" y1="157.60" x2="588.00" y2="154.60" stroke="#262626" stroke-width="0.9" />
<line x1="608.67" y1="157.60" x2="608.67" y2="154.60" stroke="#262626" stroke-width="0.9" />
<line x1="629.33" y1="157.60" x2="629.33" y2="154.60" stroke="#262626" stroke-width="0.9" />
<line x1="650.00" y1="157.60" x2="650.00" y2="154.60" stroke="#262626" stroke-width="0.9" />
<line x1="670.67" y1="157.60" x2="670.67" y2="154.60" stroke="#262626" stroke-width="0.9" />
<line x1="495.00" y1="157.60" x2="496.80" y2="157.60" stroke="#262626" stroke-width="0.9" />
<line x1="495.00" y1="139.05" x2="496.80" y2="139.05" stroke="#262626" stroke-width="0.9" />
<line x1="495.00" y1="120.51" x2="496.80" y2="120.51" stroke="#262626" stroke-width="0.9" />
<line x1="495.00" y1="101.96" x2="496.80" y2="101.96" stroke="#262626" stroke-width="0.9" />
<line x1="495.00" y1="83.41" x2="496.80" y2="83.41" stroke="#262626" stroke-width="0.9" />
<line x1="495.00" y1="64.87" x2="496.80" y2="64.87" stroke="#262626" stroke-width="0.9" />
<line x1="495.00" y1="46.32" x2="496.80" y2="46.32" stroke="#262626" stroke-width="0.9" />
<line x1="495.00" y1="27.77" x2="496.80" y2="27.77" stroke="#262626" stroke-width="0.9" />
<line x1="495.00" y1="148.33" x2="498.00" y2="148.33" stroke="#262626" stroke-width="0.9" />
<line x1="495.00" y1="129.78" x2="498.00" y2="129.78" stroke="#262626" stroke-width="0.9" />
<line x1="495.00" y1="111.23" x2="498.00" y2="111.23" stroke="#262626" stroke-width="0.9" />
<line x1="495.00" y1="92.69" x2="498.00" y2="92.69" stroke="#262626" stroke-width="0.9" />
<line x1="495.00" y1="74.14" x2="498.00" y2="74.14" stroke="#262626" stroke-width="0.9" />
<line x1="495.00" y1="55.59" x2="498.00" y2="55.59" stroke="#262626" stroke-width="0.9" />
<line x1="495.00" y1="37.05" x2="498.00" y2="37.05" stroke="#262626" stroke-width="0.9" />
<line x1="495.00" y1="18.50" x2="498.00" y2="18.50" stroke="#262626" stroke-width="0.9" />
<rect x="495.00" y="18.50" width="186.00" height="139.10" fill="none" stroke="#262626" stroke-width="1.2" />
<text x="505.33" y="167.40" font-size="8.0" font-weight="bold" font-style="normal" text-anchor="middle" fill="#262626" >-0.3</text>
<text x="526.00" y="167.40" font-size="8.0" font-weight="bold" font-style="normal" text-anchor="middle" fill="#262626" >-0.2</text>
<text x="546.67" y="167.40" font-size="8.0" font-weight="bold" font-style="normal" text-anchor="middle" fill="#262626" >-0.1</text>
<text x="567.33" y="167.40" font-size="8.0" font-weight="bold" font-style="normal" text-anchor="middle" fill="#262626" >0.0</text>
<text x="588.00" y="167.40" font-size="8.0" font-weight="bold" font-style="normal" text-anchor="middle" fill="#262626" >0.1</text>
<text x="608.67" y="167.40" font-size="8.0" font-weight="bold" font-style="normal" text-anchor="middle" fill="#262626" >0.2</text>
<text x="629.33" y="167.40" font-size="8.0" font-weight="bold" font-style="normal" text-anchor="middle" fill="#262626" >0.3</text>
<text x="650.00" y="167.40" font-size="8.0" font-weight="bold" font-style="normal" text-anchor="middle" fill="#262626" >0.4</text>
<text x="670.67" y="167.40" font-size="8.0" font-weight="bold" font-style="normal" text-anchor="middle" fill="#262626" >0.5</text>
<text x="491.80" y="150.83" font-size="8.0" font-weight="bold" font-style="normal" text-anchor="end" fill="#262626" >1.50</text>
<text x="491.80" y="132.28" font-size="8.0" font-weight="bold" font-style="normal" text-anchor="end" fill="#262626" >1.60</text>
<text x="491.80" y="113.73" font-size="8.0" font-weight="bold" font-style="normal" text-anchor="end" fill="#262626" >1.70</text>
<text x="491.80" y="95.19" font-size="8.0" font-weight="bold" font-style="normal" text-anchor="end" fill="#262626" >1.80</text>
<text x="491.80" y="76.64" font-size="8.0" font-weight="bold" font-style="normal" text-anchor="end" fill="#262626" >1.90</text>
<text x="491.80" y="58.09" font-size="8.0" font-weight="bold" font-style="normal" text-anchor="end" fill="#262626" >2.00</text>
<text x="491.80" y="39.55" font-size="8.0" font-weight="bold" font-style="normal" text-anchor="end" fill="#262626" >2.10</text>
<text x="491.80" y="21.00" font-size="8.0" font-weight="bold" font-style="normal" text-anchor="end" fill="#262626" >2.20</text>
<rect x="509.33" y="138.71" width="4.40" height="4.40" fill="#000" stroke="none" stroke-width="1" />
<rect x="530.00" y="97.91" width="4.40" height="4.40" fill="#000" stroke="none" stroke-width="1" />
<rect x="565.13" y="75.65" width="4.40" height="4.40" fill="#000" stroke="none" stroke-width="1" />
<rect x="612.67" y="62.67" width="4.40" height="4.40" fill="#000" stroke="none" stroke-width="1" />
<rect x="658.13" y="32.99" width="4.40" height="4.40" fill="#000" stroke="none" stroke-width="1" />
<path d="M525.00,45.60 L532.50,32.61 L547.50,32.61 L555.00,45.60 L547.50,58.59 L532.50,58.59 Z" stroke="#262626" stroke-width="0.9" fill="none" stroke-linejoin="miter"/>
<line x1="528.39" y1="45.13" x2="533.79" y2="35.78" stroke="#262626" stroke-width="0.9" />
<line x1="546.21" y1="35.78" x2="551.61" y2="45.13" stroke="#262626" stroke-width="0.9" />
<line x1="545.40" y1="55.89" x2="534.60" y2="55.89" stroke="#262626" stroke-width="0.9" />
<text x="513.40" y="48.50" font-size="8.3" font-weight="normal" font-style="normal" text-anchor="end" fill="#333" >R</text>
<line x1="515.00" y1="45.60" x2="525.00" y2="45.60" stroke="#262626" stroke-width="0.9" />
<line x1="555.00" y1="45.60" x2="565.80" y2="45.60" stroke="#262626" stroke-width="0.9" />
<text x="567.00" y="48.60" font-size="8.3" font-weight="normal" font-style="normal" text-anchor="start" fill="#555" >Ir</text>
<line x1="569.40" y1="35.00" x2="569.40" y2="41.50" stroke="#262626" stroke-width="0.9" />
<line x1="569.40" y1="50.40" x2="569.40" y2="56.00" stroke="#262626" stroke-width="0.9" />
<text x="566.80" y="32.00" font-size="8.3" fill="#222">Cp<tspan font-size="7.1" dy="-1.5">*</tspan></text>
<text x="566.80" y="63.80" font-size="8.3" font-weight="normal" font-style="normal" text-anchor="start" fill="#a8262c" >CO</text>
<line x1="573.40" y1="45.40" x2="580.30" y2="45.40" stroke="#4a9a72" stroke-width="0.9" />
<text x="581.90" y="48.60" font-size="8.3" font-weight="normal" font-style="normal" text-anchor="start" fill="#4a9a72" >Ph</text>
<text x="516.03" y="143.91" font-size="8" font-weight="normal" font-style="normal" text-anchor="start" fill="#333" >OMe</text>
<text x="528.70" y="103.11" font-size="8" font-weight="normal" font-style="normal" text-anchor="end" fill="#333" >Me</text>
<text x="563.83" y="80.85" font-size="8" font-weight="normal" font-style="normal" text-anchor="end" fill="#333" >H</text>
<text x="619.37" y="67.87" font-size="8" font-weight="normal" font-style="normal" text-anchor="start" fill="#333" >Br</text>
<text x="664.33" y="46.69" font-size="8" text-anchor="middle" fill="#333">CO<tspan font-size="5.5" dy="2">2</tspan><tspan dy="-2">Me</tspan></text>
<text x="672" y="129" font-size="8.6" text-anchor="end" fill="#333"><tspan font-style="italic">ρ</tspan> = 0.69</text>
<text x="675.5" y="140.5" font-size="8.6" text-anchor="end" fill="#333">R<tspan font-size="5.5" dy="-3.5">2</tspan><tspan dy="3.5"> = 0.91</tspan></text>
<text x="584" y="178.5" font-size="8.8" fill="#444">σ<tspan font-size="5.6" dy="2">p</tspan></text>
<text x="0" y="0" transform="translate(468.60,89.00) rotate(-90)" font-size="8.8" font-weight="bold" text-anchor="middle" fill="#333"><tspan font-style="italic">E</tspan><tspan font-size="5.6" dy="-3.3">Ox</tspan><tspan font-size="5.6" dy="5.5" dx="-5">2</tspan><tspan font-size="5.6" dy="0" dx="3">p/2</tspan><tspan dy="-2.2"> (V vs. SCE)</tspan></text>
<text x="7" y="198.5" font-size="9.6" fill="#1a1a1a"><tspan font-weight="bold" font-size="10.3">d</tspan> CVs for the reduction potentials</text>
<line x1="46.19" y1="343.00" x2="46.19" y2="341.20" stroke="#262626" stroke-width="0.9" />
<line x1="83.57" y1="343.00" x2="83.57" y2="341.20" stroke="#262626" stroke-width="0.9" />
<line x1="120.95" y1="343.00" x2="120.95" y2="341.20" stroke="#262626" stroke-width="0.9" />
<line x1="158.33" y1="343.00" x2="158.33" y2="341.20" stroke="#262626" stroke-width="0.9" />
<line x1="195.71" y1="343.00" x2="195.71" y2="341.20" stroke="#262626" stroke-width="0.9" />
<line x1="27.50" y1="343.00" x2="27.50" y2="340.00" stroke="#262626" stroke-width="0.9" />
<line x1="64.88" y1="343.00" x2="64.88" y2="340.00" stroke="#262626" stroke-width="0.9" />
<line x1="102.26" y1="343.00" x2="102.26" y2="340.00" stroke="#262626" stroke-width="0.9" />
<line x1="139.64" y1="343.00" x2="139.64" y2="340.00" stroke="#262626" stroke-width="0.9" />
<line x1="177.02" y1="343.00" x2="177.02" y2="340.00" stroke="#262626" stroke-width="0.9" />
<line x1="214.40" y1="343.00" x2="214.40" y2="340.00" stroke="#262626" stroke-width="0.9" />
<line x1="27.50" y1="343.00" x2="29.30" y2="343.00" stroke="#262626" stroke-width="0.9" />
<line x1="27.50" y1="325.80" x2="29.30" y2="325.80" stroke="#262626" stroke-width="0.9" />
<line x1="27.50" y1="308.60" x2="29.30" y2="308.60" stroke="#262626" stroke-width="0.9" />
<line x1="27.50" y1="291.40" x2="29.30" y2="291.40" stroke="#262626" stroke-width="0.9" />
<line x1="27.50" y1="274.20" x2="29.30" y2="274.20" stroke="#262626" stroke-width="0.9" />
<line x1="27.50" y1="257.00" x2="29.30" y2="257.00" stroke="#262626" stroke-width="0.9" />
<line x1="27.50" y1="239.80" x2="29.30" y2="239.80" stroke="#262626" stroke-width="0.9" />
<line x1="27.50" y1="222.60" x2="29.30" y2="222.60" stroke="#262626" stroke-width="0.9" />
<line x1="27.50" y1="205.40" x2="29.30" y2="205.40" stroke="#262626" stroke-width="0.9" />
<line x1="27.50" y1="334.40" x2="30.50" y2="334.40" stroke="#262626" stroke-width="0.9" />
<line x1="27.50" y1="317.20" x2="30.50" y2="317.20" stroke="#262626" stroke-width="0.9" />
<line x1="27.50" y1="300.00" x2="30.50" y2="300.00" stroke="#262626" stroke-width="0.9" />
<line x1="27.50" y1="282.80" x2="30.50" y2="282.80" stroke="#262626" stroke-width="0.9" />
<line x1="27.50" y1="265.60" x2="30.50" y2="265.60" stroke="#262626" stroke-width="0.9" />
<line x1="27.50" y1="248.40" x2="30.50" y2="248.40" stroke="#262626" stroke-width="0.9" />
<line x1="27.50" y1="231.20" x2="30.50" y2="231.20" stroke="#262626" stroke-width="0.9" />
<line x1="27.50" y1="214.00" x2="30.50" y2="214.00" stroke="#262626" stroke-width="0.9" />
<rect x="27.50" y="205.40" width="186.90" height="137.60" fill="none" stroke="#262626" stroke-width="1.2" />
<text x="27.50" y="352.80" font-size="8.0" font-weight="bold" font-style="normal" text-anchor="middle" fill="#262626" >-3.00</text>
<text x="64.88" y="352.80" font-size="8.0" font-weight="bold" font-style="normal" text-anchor="middle" fill="#262626" >-2.75</text>
<text x="102.26" y="352.80" font-size="8.0" font-weight="bold" font-style="normal" text-anchor="middle" fill="#262626" >-2.50</text>
<text x="139.64" y="352.80" font-size="8.0" font-weight="bold" font-style="normal" text-anchor="middle" fill="#262626" >-2.25</text>
<text x="177.02" y="352.80" font-size="8.0" font-weight="bold" font-style="normal" text-anchor="middle" fill="#262626" >-2.00</text>
<text x="214.40" y="352.80" font-size="8.0" font-weight="bold" font-style="normal" text-anchor="middle" fill="#262626" >-1.75</text>
<text x="23.50" y="336.90" font-size="8.0" font-weight="bold" font-style="normal" text-anchor="end" fill="#262626" >-140</text>
<text x="23.50" y="319.70" font-size="8.0" font-weight="bold" font-style="normal" text-anchor="end" fill="#262626" >-120</text>
<text x="23.50" y="302.50" font-size="8.0" font-weight="bold" font-style="normal" text-anchor="end" fill="#262626" >-100</text>
<text x="23.50" y="285.30" font-size="8.0" font-weight="bold" font-style="normal" text-anchor="end" fill="#262626" >-80</text>
<text x="23.50" y="268.10" font-size="8.0" font-weight="bold" font-style="normal" text-anchor="end" fill="#262626" >-60</text>
<text x="23.50" y="250.90" font-size="8.0" font-weight="bold" font-style="normal" text-anchor="end" fill="#262626" >-40</text>
<text x="23.50" y="233.70" font-size="8.0" font-weight="bold" font-style="normal" text-anchor="end" fill="#262626" >-20</text>
<text x="23.50" y="216.50" font-size="8.0" font-weight="bold" font-style="normal" text-anchor="end" fill="#262626" >0</text>
<text x="96" y="362" font-size="8.8" font-weight="bold" fill="#333"><tspan font-style="italic">E</tspan> (V vs. SCE)</text>
<text x="0" y="0" transform="translate(8.60,279.50) rotate(-90)" font-size="8.8" font-weight="bold" text-anchor="middle" fill="#333"><tspan font-style="italic">I</tspan> (μA)</text>
<path d="M144.90,256.30 L152.40,243.31 L167.40,243.31 L174.90,256.30 L167.40,269.29 L152.40,269.29 Z" stroke="#262626" stroke-width="0.9" fill="none" stroke-linejoin="miter"/>
<line x1="148.29" y1="255.83" x2="153.69" y2="246.48" stroke="#262626" stroke-width="0.9" />
<line x1="166.11" y1="246.48" x2="171.51" y2="255.83" stroke="#262626" stroke-width="0.9" />
<line x1="165.30" y1="266.59" x2="154.50" y2="266.59" stroke="#262626" stroke-width="0.9" />
<text x="133.30" y="259.20" font-size="8.3" font-weight="normal" font-style="normal" text-anchor="end" fill="#333" >R</text>
<line x1="134.90" y1="256.30" x2="144.90" y2="256.30" stroke="#262626" stroke-width="0.9" />
<line x1="174.90" y1="256.30" x2="185.70" y2="256.30" stroke="#262626" stroke-width="0.9" />
<text x="186.90" y="259.30" font-size="8.3" font-weight="normal" font-style="normal" text-anchor="start" fill="#555" >Ir</text>
<line x1="189.30" y1="245.70" x2="189.30" y2="252.20" stroke="#262626" stroke-width="0.9" />
<line x1="189.30" y1="261.10" x2="189.30" y2="266.70" stroke="#262626" stroke-width="0.9" />
<text x="186.70" y="242.70" font-size="8.3" fill="#222">Cp<tspan font-size="7.1" dy="-1.5">*</tspan></text>
<text x="186.70" y="274.50" font-size="8.3" font-weight="normal" font-style="normal" text-anchor="start" fill="#a8262c" >CO</text>
<line x1="193.30" y1="256.10" x2="200.20" y2="256.10" stroke="#4a9a72" stroke-width="0.9" />
<text x="201.80" y="259.30" font-size="8.3" font-weight="normal" font-style="normal" text-anchor="start" fill="#4a9a72" >Ph</text>
<line x1="149.00" y1="290.60" x2="165.60" y2="290.60" stroke="#4646b4" stroke-width="1.3" />
<text x="168" y="293.50" font-size="8" fill="#333">R = CO<tspan font-size="5.5" dy="2">2</tspan><tspan dy="-2">Me</tspan></text>
<line x1="149.00" y1="302.40" x2="165.60" y2="302.40" stroke="#2222ff" stroke-width="1.3" />
<text x="168" y="305.30" font-size="8" fill="#333">R = Br</text>
<line x1="149.00" y1="312.20" x2="165.60" y2="312.20" stroke="#111" stroke-width="1.3" />
<text x="168" y="315.10" font-size="8" fill="#333">R = H</text>
<line x1="149.00" y1="322.20" x2="165.60" y2="322.20" stroke="#ff8c00" stroke-width="1.3" />
<text x="168" y="325.10" font-size="8" fill="#333">R = Me</text>
<line x1="149.00" y1="332.20" x2="165.60" y2="332.20" stroke="#ff1a1a" stroke-width="1.3" />
<text x="168" y="335.10" font-size="8" fill="#333">R = OMe</text>
<text x="229" y="198.5" font-size="9.6" fill="#1a1a1a"><tspan font-weight="bold" font-size="10.3">e</tspan> Hammett plot analysis for the reduction events</text>
<line x1="279.50" y1="321.70" x2="424.00" y2="220.00" stroke="#808080" stroke-width="1.1" />
<line x1="259.40" y1="343.30" x2="259.40" y2="341.50" stroke="#262626" stroke-width="0.9" />
<line x1="280.07" y1="343.30" x2="280.07" y2="341.50" stroke="#262626" stroke-width="0.9" />
<line x1="300.73" y1="343.30" x2="300.73" y2="341.50" stroke="#262626" stroke-width="0.9" />
<line x1="321.40" y1="343.30" x2="321.40" y2="341.50" stroke="#262626" stroke-width="0.9" />
<line x1="342.07" y1="343.30" x2="342.07" y2="341.50" stroke="#262626" stroke-width="0.9" />
<line x1="362.73" y1="343.30" x2="362.73" y2="341.50" stroke="#262626" stroke-width="0.9" />
<line x1="383.40" y1="343.30" x2="383.40" y2="341.50" stroke="#262626" stroke-width="0.9" />
<line x1="404.07" y1="343.30" x2="404.07" y2="341.50" stroke="#262626" stroke-width="0.9" />
<line x1="424.73" y1="343.30" x2="424.73" y2="341.50" stroke="#262626" stroke-width="0.9" />
<line x1="445.40" y1="343.30" x2="445.40" y2="341.50" stroke="#262626" stroke-width="0.9" />
<line x1="269.73" y1="343.30" x2="269.73" y2="340.30" stroke="#262626" stroke-width="0.9" />
<line x1="290.40" y1="343.30" x2="290.40" y2="340.30" stroke="#262626" stroke-width="0.9" />
<line x1="311.07" y1="343.30" x2="311.07" y2="340.30" stroke="#262626" stroke-width="0.9" />
<line x1="331.73" y1="343.30" x2="331.73" y2="340.30" stroke="#262626" stroke-width="0.9" />
<line x1="352.40" y1="343.30" x2="352.40" y2="340.30" stroke="#262626" stroke-width="0.9" />
<line x1="373.07" y1="343.30" x2="373.07" y2="340.30" stroke="#262626" stroke-width="0.9" />
<line x1="393.73" y1="343.30" x2="393.73" y2="340.30" stroke="#262626" stroke-width="0.9" />
<line x1="414.40" y1="343.30" x2="414.40" y2="340.30" stroke="#262626" stroke-width="0.9" />
<line x1="435.07" y1="343.30" x2="435.07" y2="340.30" stroke="#262626" stroke-width="0.9" />
<line x1="259.40" y1="343.30" x2="261.20" y2="343.30" stroke="#262626" stroke-width="0.9" />
<line x1="259.40" y1="315.72" x2="261.20" y2="315.72" stroke="#262626" stroke-width="0.9" />
<line x1="259.40" y1="288.14" x2="261.20" y2="288.14" stroke="#262626" stroke-width="0.9" />
<line x1="259.40" y1="260.56" x2="261.20" y2="260.56" stroke="#262626" stroke-width="0.9" />
<line x1="259.40" y1="232.98" x2="261.20" y2="232.98" stroke="#262626" stroke-width="0.9" />
<line x1="259.40" y1="205.40" x2="261.20" y2="205.40" stroke="#262626" stroke-width="0.9" />
<line x1="259.40" y1="329.51" x2="262.40" y2="329.51" stroke="#262626" stroke-width="0.9" />
<line x1="259.40" y1="301.93" x2="262.40" y2="301.93" stroke="#262626" stroke-width="0.9" />
<line x1="259.40" y1="274.35" x2="262.40" y2="274.35" stroke="#262626" stroke-width="0.9" />
<line x1="259.40" y1="246.77" x2="262.40" y2="246.77" stroke="#262626" stroke-width="0.9" />
<line x1="259.40" y1="219.19" x2="262.40" y2="219.19" stroke="#262626" stroke-width="0.9" />
<rect x="259.40" y="205.40" width="186.00" height="137.90" fill="none" stroke="#262626" stroke-width="1.2" />
<text x="269.73" y="353.10" font-size="8.0" font-weight="bold" font-style="normal" text-anchor="middle" fill="#262626" >-0.3</text>
<text x="290.40" y="353.10" font-size="8.0" font-weight="bold" font-style="normal" text-anchor="middle" fill="#262626" >-0.2</text>
<text x="311.07" y="353.10" font-size="8.0" font-weight="bold" font-style="normal" text-anchor="middle" fill="#262626" >-0.1</text>
<text x="331.73" y="353.10" font-size="8.0" font-weight="bold" font-style="normal" text-anchor="middle" fill="#262626" >0.0</text>
<text x="352.40" y="353.10" font-size="8.0" font-weight="bold" font-style="normal" text-anchor="middle" fill="#262626" >0.1</text>
<text x="373.07" y="353.10" font-size="8.0" font-weight="bold" font-style="normal" text-anchor="middle" fill="#262626" >0.2</text>
<text x="393.73" y="353.10" font-size="8.0" font-weight="bold" font-style="normal" text-anchor="middle" fill="#262626" >0.3</text>
<text x="414.40" y="353.10" font-size="8.0" font-weight="bold" font-style="normal" text-anchor="middle" fill="#262626" >0.4</text>
<text x="435.07" y="353.10" font-size="8.0" font-weight="bold" font-style="normal" text-anchor="middle" fill="#262626" >0.5</text>
<text x="256.40" y="332.01" font-size="8.0" font-weight="bold" font-style="normal" text-anchor="end" fill="#262626" >-2.56</text>
<text x="256.40" y="304.43" font-size="8.0" font-weight="bold" font-style="normal" text-anchor="end" fill="#262626" >-2.52</text>
<text x="256.40" y="276.85" font-size="8.0" font-weight="bold" font-style="normal" text-anchor="end" fill="#262626" >-2.48</text>
<text x="256.40" y="249.27" font-size="8.0" font-weight="bold" font-style="normal" text-anchor="end" fill="#262626" >-2.44</text>
<text x="256.40" y="221.69" font-size="8.0" font-weight="bold" font-style="normal" text-anchor="end" fill="#262626" >-2.40</text>
<rect x="273.73" y="320.41" width="4.40" height="4.40" fill="#000" stroke="none" stroke-width="1" />
<rect x="294.40" y="306.62" width="4.40" height="4.40" fill="#000" stroke="none" stroke-width="1" />
<rect x="329.53" y="285.94" width="4.40" height="4.40" fill="#000" stroke="none" stroke-width="1" />
<rect x="377.07" y="244.57" width="4.40" height="4.40" fill="#000" stroke="none" stroke-width="1" />
<rect x="422.53" y="216.99" width="4.40" height="4.40" fill="#000" stroke="none" stroke-width="1" />
<path d="M284.90,231.90 L292.40,218.91 L307.40,218.91 L314.90,231.90 L307.40,244.89 L292.40,244.89 Z" stroke="#262626" stroke-width="0.9" fill="none" stroke-linejoin="miter"/>
<line x1="288.29" y1="231.43" x2="293.69" y2="222.08" stroke="#262626" stroke-width="0.9" />
<line x1="306.11" y1="222.08" x2="311.51" y2="231.43" stroke="#262626" stroke-width="0.9" />
<line x1="305.30" y1="242.19" x2="294.50" y2="242.19" stroke="#262626" stroke-width="0.9" />
<text x="273.30" y="234.80" font-size="8.3" font-weight="normal" font-style="normal" text-anchor="end" fill="#333" >R</text>
<line x1="274.90" y1="231.90" x2="284.90" y2="231.90" stroke="#262626" stroke-width="0.9" />
<line x1="314.90" y1="231.90" x2="325.70" y2="231.90" stroke="#262626" stroke-width="0.9" />
<text x="326.90" y="234.90" font-size="8.3" font-weight="normal" font-style="normal" text-anchor="start" fill="#555" >Ir</text>
<line x1="329.30" y1="221.30" x2="329.30" y2="227.80" stroke="#262626" stroke-width="0.9" />
<line x1="329.30" y1="236.70" x2="329.30" y2="242.30" stroke="#262626" stroke-width="0.9" />
<text x="326.70" y="218.30" font-size="8.3" fill="#222">Cp<tspan font-size="7.1" dy="-1.5">*</tspan></text>
<text x="326.70" y="250.10" font-size="8.3" font-weight="normal" font-style="normal" text-anchor="start" fill="#a8262c" >CO</text>
<line x1="333.30" y1="231.70" x2="340.20" y2="231.70" stroke="#4a9a72" stroke-width="0.9" />
<text x="341.80" y="234.90" font-size="8.3" font-weight="normal" font-style="normal" text-anchor="start" fill="#4a9a72" >Ph</text>
<text x="280.43" y="325.61" font-size="8" font-weight="normal" font-style="normal" text-anchor="start" fill="#333" >OMe</text>
<text x="301.10" y="311.82" font-size="8" font-weight="normal" font-style="normal" text-anchor="start" fill="#333" >Me</text>
<text x="336.23" y="291.14" font-size="8" font-weight="normal" font-style="normal" text-anchor="start" fill="#333" >H</text>
<text x="375.77" y="249.77" font-size="8" font-weight="normal" font-style="normal" text-anchor="end" fill="#333" >Br</text>
<text x="421.53" y="222.19" font-size="8" text-anchor="end" fill="#333">CO<tspan font-size="5.5" dy="2">2</tspan><tspan dy="-2">Me</tspan></text>
<text x="437" y="312.5" font-size="8.6" text-anchor="end" fill="#333"><tspan font-style="italic">ρ</tspan> = 0.21</text>
<text x="441.5" y="323.8" font-size="8.6" text-anchor="end" fill="#333">R<tspan font-size="5.5" dy="-3.5">2</tspan><tspan dy="3.5"> = 0.99</tspan></text>
<text x="347" y="361" font-size="8.8" fill="#444">σ<tspan font-size="5.6" dy="2">p</tspan></text>
<text x="0" y="0" transform="translate(234.20,282.50) rotate(-90)" font-size="9.6" font-weight="normal" text-anchor="middle" fill="#333"><tspan font-style="italic">E</tspan><tspan font-size="6" dy="-3.6">Re</tspan><tspan font-size="6" dy="6" dx="-5.5">p/2</tspan><tspan dy="-2.4"> (V vs. SCE)</tspan></text>
<text x="467" y="198.5" font-size="9.6" fill="#1a1a1a"><tspan font-weight="bold" font-size="10.3">f</tspan> CVs of <tspan font-weight="bold">5d</tspan> at different scan rates</text>
<line x1="514.44" y1="342.60" x2="514.44" y2="340.80" stroke="#262626" stroke-width="0.9" />
<line x1="555.73" y1="342.60" x2="555.73" y2="340.80" stroke="#262626" stroke-width="0.9" />
<line x1="597.02" y1="342.60" x2="597.02" y2="340.80" stroke="#262626" stroke-width="0.9" />
<line x1="638.31" y1="342.60" x2="638.31" y2="340.80" stroke="#262626" stroke-width="0.9" />
<line x1="679.60" y1="342.60" x2="679.60" y2="340.80" stroke="#262626" stroke-width="0.9" />
<line x1="493.80" y1="342.60" x2="493.80" y2="339.60" stroke="#262626" stroke-width="0.9" />
<line x1="535.09" y1="342.60" x2="535.09" y2="339.60" stroke="#262626" stroke-width="0.9" />
<line x1="576.38" y1="342.60" x2="576.38" y2="339.60" stroke="#262626" stroke-width="0.9" />
<line x1="617.67" y1="342.60" x2="617.67" y2="339.60" stroke="#262626" stroke-width="0.9" />
<line x1="658.96" y1="342.60" x2="658.96" y2="339.60" stroke="#262626" stroke-width="0.9" />
<line x1="493.80" y1="333.39" x2="495.60" y2="333.39" stroke="#262626" stroke-width="0.9" />
<line x1="493.80" y1="314.96" x2="495.60" y2="314.96" stroke="#262626" stroke-width="0.9" />
<line x1="493.80" y1="296.53" x2="495.60" y2="296.53" stroke="#262626" stroke-width="0.9" />
<line x1="493.80" y1="278.11" x2="495.60" y2="278.11" stroke="#262626" stroke-width="0.9" />
<line x1="493.80" y1="259.68" x2="495.60" y2="259.68" stroke="#262626" stroke-width="0.9" />
<line x1="493.80" y1="241.25" x2="495.60" y2="241.25" stroke="#262626" stroke-width="0.9" />
<line x1="493.80" y1="222.83" x2="495.60" y2="222.83" stroke="#262626" stroke-width="0.9" />
<line x1="493.80" y1="204.40" x2="495.60" y2="204.40" stroke="#262626" stroke-width="0.9" />
<line x1="493.80" y1="342.60" x2="496.80" y2="342.60" stroke="#262626" stroke-width="0.9" />
<line x1="493.80" y1="324.17" x2="496.80" y2="324.17" stroke="#262626" stroke-width="0.9" />
<line x1="493.80" y1="305.75" x2="496.80" y2="305.75" stroke="#262626" stroke-width="0.9" />
<line x1="493.80" y1="287.32" x2="496.80" y2="287.32" stroke="#262626" stroke-width="0.9" />
<line x1="493.80" y1="268.89" x2="496.80" y2="268.89" stroke="#262626" stroke-width="0.9" />
<line x1="493.80" y1="250.47" x2="496.80" y2="250.47" stroke="#262626" stroke-width="0.9" />
<line x1="493.80" y1="232.04" x2="496.80" y2="232.04" stroke="#262626" stroke-width="0.9" />
<line x1="493.80" y1="213.61" x2="496.80" y2="213.61" stroke="#262626" stroke-width="0.9" />
<rect x="493.80" y="204.40" width="185.80" height="138.20" fill="none" stroke="#262626" stroke-width="1.2" />
<text x="493.80" y="352.40" font-size="8.0" font-weight="bold" font-style="normal" text-anchor="middle" fill="#262626" >0.5</text>
<text x="535.09" y="352.40" font-size="8.0" font-weight="bold" font-style="normal" text-anchor="middle" fill="#262626" >1.0</text>
<text x="576.38" y="352.40" font-size="8.0" font-weight="bold" font-style="normal" text-anchor="middle" fill="#262626" >1.5</text>
<text x="617.67" y="352.40" font-size="8.0" font-weight="bold" font-style="normal" text-anchor="middle" fill="#262626" >2.0</text>
<text x="658.96" y="352.40" font-size="8.0" font-weight="bold" font-style="normal" text-anchor="middle" fill="#262626" >2.5</text>
<text x="489.80" y="345.10" font-size="8.0" font-weight="bold" font-style="normal" text-anchor="end" fill="#262626" >-20</text>
<text x="489.80" y="326.67" font-size="8.0" font-weight="bold" font-style="normal" text-anchor="end" fill="#262626" >0</text>
<text x="489.80" y="308.25" font-size="8.0" font-weight="bold" font-style="normal" text-anchor="end" fill="#262626" >20</text>
<text x="489.80" y="289.82" font-size="8.0" font-weight="bold" font-style="normal" text-anchor="end" fill="#262626" >40</text>
<text x="489.80" y="271.39" font-size="8.0" font-weight="bold" font-style="normal" text-anchor="end" fill="#262626" >60</text>
<text x="489.80" y="252.97" font-size="8.0" font-weight="bold" font-style="normal" text-anchor="end" fill="#262626" >80</text>
<text x="489.80" y="234.54" font-size="8.0" font-weight="bold" font-style="normal" text-anchor="end" fill="#262626" >100</text>
<text x="489.80" y="216.11" font-size="8.0" font-weight="bold" font-style="normal" text-anchor="end" fill="#262626" >120</text>
<text x="558.4" y="360.2" font-size="8.8" font-weight="bold" fill="#333"><tspan font-style="italic">E</tspan> (V vs. SCE)</text>
<text x="0" y="0" transform="translate(477.00,279.50) rotate(-90)" font-size="8.8" font-weight="bold" text-anchor="middle" fill="#333"><tspan font-style="italic">I</tspan> (μA)</text>
<path d="M526.00,229.30 L533.50,216.31 L548.50,216.31 L556.00,229.30 L548.50,242.29 L533.50,242.29 Z" stroke="#262626" stroke-width="0.9" fill="none" stroke-linejoin="miter"/>
<line x1="529.39" y1="228.83" x2="534.79" y2="219.48" stroke="#262626" stroke-width="0.9" />
<line x1="547.21" y1="219.48" x2="552.61" y2="228.83" stroke="#262626" stroke-width="0.9" />
<line x1="546.40" y1="239.59" x2="535.60" y2="239.59" stroke="#262626" stroke-width="0.9" />
<text x="514.40" y="232.20" font-size="8.3" font-weight="normal" font-style="normal" text-anchor="end" fill="#333" >Br</text>
<line x1="516.00" y1="229.30" x2="526.00" y2="229.30" stroke="#262626" stroke-width="0.9" />
<line x1="556.00" y1="229.30" x2="566.80" y2="229.30" stroke="#262626" stroke-width="0.9" />
<text x="568.00" y="232.30" font-size="8.3" font-weight="normal" font-style="normal" text-anchor="start" fill="#555" >Ir</text>
<line x1="570.40" y1="218.70" x2="570.40" y2="225.20" stroke="#262626" stroke-width="0.9" />
<line x1="570.40" y1="234.10" x2="570.40" y2="239.70" stroke="#262626" stroke-width="0.9" />
<text x="567.80" y="215.70" font-size="8.3" fill="#222">Cp<tspan font-size="7.1" dy="-1.5">*</tspan></text>
<text x="567.80" y="247.50" font-size="8.3" font-weight="normal" font-style="normal" text-anchor="start" fill="#a8262c" >CO</text>
<line x1="574.40" y1="229.10" x2="581.30" y2="229.10" stroke="#4a9a72" stroke-width="0.9" />
<text x="582.90" y="232.30" font-size="8.3" font-weight="normal" font-style="normal" text-anchor="start" fill="#4a9a72" >Ph</text>
<line x1="502.40" y1="248.20" x2="519.00" y2="248.20" stroke="#111" stroke-width="1.3" />
<text x="521" y="251.10" font-size="8" fill="#333">50 mV s<tspan font-size="5.2" dy="-3.4">-1</tspan></text>
<line x1="502.40" y1="259.50" x2="519.00" y2="259.50" stroke="#ff8c00" stroke-width="1.3" />
<text x="521" y="262.40" font-size="8" fill="#333">100 mV s<tspan font-size="5.2" dy="-3.4">-1</tspan></text>
<line x1="502.40" y1="270.80" x2="519.00" y2="270.80" stroke="#ff22ff" stroke-width="1.3" />
<text x="521" y="273.70" font-size="8" fill="#333">200 mV s<tspan font-size="5.2" dy="-3.4">-1</tspan></text>
<line x1="502.40" y1="282.10" x2="519.00" y2="282.10" stroke="#ff1a1a" stroke-width="1.3" />
<text x="521" y="285.00" font-size="8" fill="#333">400 mV s<tspan font-size="5.2" dy="-3.4">-1</tspan></text>
<text x="3" y="379.5" font-size="9.6" fill="#1a1a1a"><tspan font-weight="bold" font-size="10.3">g</tspan> Reductive elimination of <tspan font-weight="bold">5e</tspan> <tspan font-style="italic">via</tspan> electrochemical pathway</text>
<text x="162.50" y="415.70" font-size="9.6" text-anchor="end" fill="#222">MeO<tspan font-size="6.7" dy="2">2</tspan><tspan dy="-2">C</tspan></text>
<line x1="162.30" y1="412.60" x2="173.70" y2="412.60" stroke="#262626" stroke-width="0.9" />
<path d="M173.70,412.60 L181.20,399.61 L196.20,399.61 L203.70,412.60 L196.20,425.59 L181.20,425.59 Z" stroke="#262626" stroke-width="0.9" fill="none" stroke-linejoin="miter"/>
<line x1="177.09" y1="412.13" x2="182.49" y2="402.78" stroke="#262626" stroke-width="0.9" />
<line x1="194.91" y1="402.78" x2="200.31" y2="412.13" stroke="#262626" stroke-width="0.9" />
<line x1="194.10" y1="422.89" x2="183.30" y2="422.89" stroke="#262626" stroke-width="0.9" />
<line x1="203.70" y1="412.60" x2="216.00" y2="412.60" stroke="#262626" stroke-width="0.9" />
<text x="216.00" y="415.70" font-size="9.4" fill="#444">Ir<tspan font-size="6.6" dy="-3.9" fill="#222">III</tspan></text>
<line x1="217.60" y1="401.60" x2="217.60" y2="408.00" stroke="#262626" stroke-width="0.9" />
<line x1="217.60" y1="417.40" x2="217.60" y2="423.20" stroke="#262626" stroke-width="0.9" />
<text x="215.60" y="398.80" font-size="9.4" fill="#222">Cp<tspan font-size="8.0" dy="-2.6">*</tspan></text>
<text x="215.60" y="430.20" font-size="9.4" font-weight="normal" font-style="normal" text-anchor="start" fill="#a8262c" >CO</text>
<line x1="229.50" y1="412.60" x2="241.40" y2="412.60" stroke="#4a9a72" stroke-width="0.9" />
<path d="M241.40,412.60 L248.90,399.61 L263.90,399.61 L271.40,412.60 L263.90,425.59 L248.90,425.59 Z" stroke="#4a9a72" stroke-width="0.9" fill="none" stroke-linejoin="miter"/>
<line x1="251.00" y1="402.31" x2="261.80" y2="402.31" stroke="#4a9a72" stroke-width="0.9" />
<line x1="268.01" y1="413.07" x2="262.61" y2="422.42" stroke="#4a9a72" stroke-width="0.9" />
<line x1="250.19" y1="422.42" x2="244.79" y2="413.07" stroke="#4a9a72" stroke-width="0.9" />
<text x="219.00" y="444.50" font-size="9.4" font-weight="bold" font-style="normal" text-anchor="middle" fill="#222" >5e</text>
<line x1="280.00" y1="412.60" x2="410.00" y2="412.60" stroke="#262626" stroke-width="1.0" />
<path d="M415,412.6 L406.5,410.0 L406.5,415.20000000000005 Z" fill="#222"/>
<text x="326.50" y="404.30" font-size="9.4" font-weight="normal" font-style="normal" text-anchor="end" fill="#222" >C</text>
<rect x="330.40" y="399.50" width="2.40" height="10.80" fill="#111" stroke="none" stroke-width="1" />
<rect x="351.30" y="398.60" width="2.60" height="11.60" fill="#fff" stroke="#222" stroke-width="0.8" />
<path d="M331.6,399.5 L331.6,391 L340.5,391 M340.5,383 L340.5,397 M343.5,387.2 L343.5,394.3 M343.5,391 L352.6,391 L352.6,398.6" stroke="#262626" stroke-width="0.9" fill="none" />
<text x="357.60" y="403.50" font-size="9.4" font-weight="normal" font-style="normal" text-anchor="start" fill="#222" >Pt</text>
<text x="344.7" y="425.6" font-size="9.5" text-anchor="middle" fill="#222"><tspan font-style="italic" font-size="6.8" dy="-3.4">n</tspan><tspan dy="3.4">Bu</tspan><tspan font-size="6.8" dy="2.4">4</tspan><tspan dy="-2.4">NPF</tspan><tspan font-size="6.8" dy="2.4">6</tspan><tspan dy="-2.4"> (0.1 M)</tspan></text>
<text x="345.60" y="437.60" font-size="9.5" font-weight="normal" font-style="normal" text-anchor="middle" fill="#222" >MeCN, r.t., 3 h</text>
<text x="459.80" y="415.70" font-size="9.6" text-anchor="end" fill="#222">MeO<tspan font-size="6.7" dy="2">2</tspan><tspan dy="-2">C</tspan></text>
<line x1="459.80" y1="412.60" x2="470.60" y2="412.60" stroke="#262626" stroke-width="0.9" />
<path d="M470.60,412.60 L478.10,399.61 L493.10,399.61 L500.60,412.60 L493.10,425.59 L478.10,425.59 Z" stroke="#262626" stroke-width="0.9" fill="none" stroke-linejoin="miter"/>
<line x1="473.99" y1="412.13" x2="479.39" y2="402.78" stroke="#262626" stroke-width="0.9" />
<line x1="491.81" y1="402.78" x2="497.21" y2="412.13" stroke="#262626" stroke-width="0.9" />
<line x1="491.00" y1="422.89" x2="480.20" y2="422.89" stroke="#262626" stroke-width="0.9" />
<line x1="500.60" y1="412.60" x2="514.50" y2="412.60" stroke="#4a9a72" stroke-width="0.9" />
<path d="M514.50,412.60 L522.00,399.61 L537.00,399.61 L544.50,412.60 L537.00,425.59 L522.00,425.59 Z" stroke="#4a9a72" stroke-width="0.9" fill="none" stroke-linejoin="miter"/>
<line x1="524.10" y1="402.31" x2="534.90" y2="402.31" stroke="#4a9a72" stroke-width="0.9" />
<line x1="541.11" y1="413.07" x2="535.71" y2="422.42" stroke="#4a9a72" stroke-width="0.9" />
<line x1="523.29" y1="422.42" x2="517.89" y2="413.07" stroke="#4a9a72" stroke-width="0.9" />
<text x="507.20" y="442.80" font-size="9.4" font-weight="bold" font-style="normal" text-anchor="middle" fill="#222" >6a</text>
<path d="M216.7,451.7 L216.7,481.8 L287.5,481.8" stroke="#262626" stroke-width="0.9" fill="none" />
<path d="M440.5,483.3 L508.2,483.3 L508.2,457" stroke="#262626" stroke-width="0.9" fill="none" />
<path d="M508.2,451.2 L505.8,458.6 L510.6,458.6 Z" fill="#222"/>
<text x="225.7" y="476.5" font-size="9.5" fill="#222">1e<tspan font-size="5.8" dy="-3.3">-</tspan><tspan dy="3.3"> oxidation</tspan></text>
<path d="M290,458 L287,458 L287,503.8 L290,503.8" stroke="#262626" stroke-width="1.0" fill="none" />
<path d="M437.4,458 L440.4,458 L440.4,503.8 L437.4,503.8" stroke="#262626" stroke-width="1.0" fill="none" />
<circle cx="447.8" cy="456.2" r="3.1" fill="none" stroke="#222" stroke-width="0.7"/>
<line x1="445.60" y1="456.20" x2="450.00" y2="456.20" stroke="#262626" stroke-width="0.7" />
<line x1="447.80" y1="454.00" x2="447.80" y2="458.40" stroke="#262626" stroke-width="0.7" />
<text x="324.00" y="486.40" font-size="9.6" text-anchor="end" fill="#222">MeO<tspan font-size="6.7" dy="2">2</tspan><tspan dy="-2">C</tspan></text>
<line x1="323.80" y1="483.30" x2="333.60" y2="483.30" stroke="#262626" stroke-width="0.9" />
<path d="M333.60,483.30 L341.10,470.31 L356.10,470.31 L363.60,483.30 L356.10,496.29 L341.10,496.29 Z" stroke="#262626" stroke-width="0.9" fill="none" stroke-linejoin="miter"/>
<line x1="336.99" y1="482.83" x2="342.39" y2="473.48" stroke="#262626" stroke-width="0.9" />
<line x1="354.81" y1="473.48" x2="360.21" y2="482.83" stroke="#262626" stroke-width="0.9" />
<line x1="354.00" y1="493.59" x2="343.20" y2="493.59" stroke="#262626" stroke-width="0.9" />
<line x1="363.60" y1="483.30" x2="377.20" y2="483.30" stroke="#262626" stroke-width="0.9" />
<text x="376.60" y="486.40" font-size="9.4" fill="#444">Ir<tspan font-size="6.6" dy="-3.9" fill="#222">IV</tspan></text>
<line x1="378.20" y1="472.30" x2="378.20" y2="478.70" stroke="#262626" stroke-width="0.9" />
<line x1="378.20" y1="488.10" x2="378.20" y2="493.90" stroke="#262626" stroke-width="0.9" />
<text x="376.20" y="469.50" font-size="9.4" fill="#222">Cp<tspan font-size="8.0" dy="-2.6">*</tspan></text>
<text x="376.20" y="500.90" font-size="9.4" font-weight="normal" font-style="normal" text-anchor="start" fill="#a8262c" >CO</text>
<line x1="391.50" y1="483.30" x2="401.80" y2="483.30" stroke="#4a9a72" stroke-width="0.9" />
<path d="M401.80,483.30 L409.30,470.31 L424.30,470.31 L431.80,483.30 L424.30,496.29 L409.30,496.29 Z" stroke="#4a9a72" stroke-width="0.9" fill="none" stroke-linejoin="miter"/>
<line x1="411.40" y1="473.01" x2="422.20" y2="473.01" stroke="#4a9a72" stroke-width="0.9" />
<line x1="428.41" y1="483.77" x2="423.01" y2="493.12" stroke="#4a9a72" stroke-width="0.9" />
<line x1="410.59" y1="493.12" x2="405.19" y2="483.77" stroke="#4a9a72" stroke-width="0.9" />
<text x="293.5" y="516.5" font-size="9.5" fill="#222"><tspan fill="#3a9a6a">'Reactive'</tspan> to reductive elimination</text>
<line x1="50.70" y1="670.00" x2="50.70" y2="668.20" stroke="#262626" stroke-width="0.9" />
<line x1="73.80" y1="670.00" x2="73.80" y2="668.20" stroke="#262626" stroke-width="0.9" />
<line x1="96.90" y1="670.00" x2="96.90" y2="668.20" stroke="#262626" stroke-width="0.9" />
<line x1="120.00" y1="670.00" x2="120.00" y2="668.20" stroke="#262626" stroke-width="0.9" />
<line x1="143.10" y1="670.00" x2="143.10" y2="668.20" stroke="#262626" stroke-width="0.9" />
<line x1="166.20" y1="670.00" x2="166.20" y2="668.20" stroke="#262626" stroke-width="0.9" />
<line x1="189.30" y1="670.00" x2="189.30" y2="668.20" stroke="#262626" stroke-width="0.9" />
<line x1="39.15" y1="670.00" x2="39.15" y2="667.00" stroke="#262626" stroke-width="0.9" />
<line x1="62.25" y1="670.00" x2="62.25" y2="667.00" stroke="#262626" stroke-width="0.9" />
<line x1="85.35" y1="670.00" x2="85.35" y2="667.00" stroke="#262626" stroke-width="0.9" />
<line x1="108.45" y1="670.00" x2="108.45" y2="667.00" stroke="#262626" stroke-width="0.9" />
<line x1="131.55" y1="670.00" x2="131.55" y2="667.00" stroke="#262626" stroke-width="0.9" />
<line x1="154.65" y1="670.00" x2="154.65" y2="667.00" stroke="#262626" stroke-width="0.9" />
<line x1="177.75" y1="670.00" x2="177.75" y2="667.00" stroke="#262626" stroke-width="0.9" />
<line x1="200.85" y1="670.00" x2="200.85" y2="667.00" stroke="#262626" stroke-width="0.9" />
<line x1="27.60" y1="660.17" x2="29.40" y2="660.17" stroke="#262626" stroke-width="0.9" />
<line x1="27.60" y1="640.51" x2="29.40" y2="640.51" stroke="#262626" stroke-width="0.9" />
<line x1="27.60" y1="620.86" x2="29.40" y2="620.86" stroke="#262626" stroke-width="0.9" />
<line x1="27.60" y1="601.20" x2="29.40" y2="601.20" stroke="#262626" stroke-width="0.9" />
<line x1="27.60" y1="581.54" x2="29.40" y2="581.54" stroke="#262626" stroke-width="0.9" />
<line x1="27.60" y1="561.89" x2="29.40" y2="561.89" stroke="#262626" stroke-width="0.9" />
<line x1="27.60" y1="542.23" x2="29.40" y2="542.23" stroke="#262626" stroke-width="0.9" />
<line x1="27.60" y1="670.00" x2="30.60" y2="670.00" stroke="#262626" stroke-width="0.9" />
<line x1="27.60" y1="650.34" x2="30.60" y2="650.34" stroke="#262626" stroke-width="0.9" />
<line x1="27.60" y1="630.69" x2="30.60" y2="630.69" stroke="#262626" stroke-width="0.9" />
<line x1="27.60" y1="611.03" x2="30.60" y2="611.03" stroke="#262626" stroke-width="0.9" />
<line x1="27.60" y1="591.37" x2="30.60" y2="591.37" stroke="#262626" stroke-width="0.9" />
<line x1="27.60" y1="571.71" x2="30.60" y2="571.71" stroke="#262626" stroke-width="0.9" />
<line x1="27.60" y1="552.06" x2="30.60" y2="552.06" stroke="#262626" stroke-width="0.9" />
<line x1="27.60" y1="532.40" x2="30.60" y2="532.40" stroke="#262626" stroke-width="0.9" />
<rect x="27.60" y="532.40" width="184.80" height="137.60" fill="none" stroke="#262626" stroke-width="1.2" />
<text x="39.15" y="679.80" font-size="8.0" font-weight="bold" font-style="normal" text-anchor="middle" fill="#262626" >1</text>
<text x="62.25" y="679.80" font-size="8.0" font-weight="bold" font-style="normal" text-anchor="middle" fill="#262626" >2</text>
<text x="85.35" y="679.80" font-size="8.0" font-weight="bold" font-style="normal" text-anchor="middle" fill="#262626" >3</text>
<text x="108.45" y="679.80" font-size="8.0" font-weight="bold" font-style="normal" text-anchor="middle" fill="#262626" >4</text>
<text x="131.55" y="679.80" font-size="8.0" font-weight="bold" font-style="normal" text-anchor="middle" fill="#262626" >5</text>
<text x="154.65" y="679.80" font-size="8.0" font-weight="bold" font-style="normal" text-anchor="middle" fill="#262626" >6</text>
<text x="177.75" y="679.80" font-size="8.0" font-weight="bold" font-style="normal" text-anchor="middle" fill="#262626" >7</text>
<text x="200.85" y="679.80" font-size="8.0" font-weight="bold" font-style="normal" text-anchor="middle" fill="#262626" >8</text>
<text x="24.60" y="672.50" font-size="8.0" font-weight="bold" font-style="normal" text-anchor="end" fill="#262626" >10</text>
<text x="24.60" y="652.84" font-size="8.0" font-weight="bold" font-style="normal" text-anchor="end" fill="#262626" >20</text>
<text x="24.60" y="633.19" font-size="8.0" font-weight="bold" font-style="normal" text-anchor="end" fill="#262626" >30</text>
<text x="24.60" y="613.53" font-size="8.0" font-weight="bold" font-style="normal" text-anchor="end" fill="#262626" >40</text>
<text x="24.60" y="593.87" font-size="8.0" font-weight="bold" font-style="normal" text-anchor="end" fill="#262626" >50</text>
<text x="24.60" y="574.21" font-size="8.0" font-weight="bold" font-style="normal" text-anchor="end" fill="#262626" >60</text>
<text x="24.60" y="554.56" font-size="8.0" font-weight="bold" font-style="normal" text-anchor="end" fill="#262626" >70</text>
<text x="24.60" y="534.90" font-size="8.0" font-weight="bold" font-style="normal" text-anchor="end" fill="#262626" >80</text>
<rect x="36.75" y="651.87" width="4.80" height="4.80" fill="#000" stroke="none" stroke-width="1" />
<rect x="59.85" y="632.22" width="4.80" height="4.80" fill="#000" stroke="none" stroke-width="1" />
<rect x="82.95" y="606.66" width="4.80" height="4.80" fill="#000" stroke="none" stroke-width="1" />
<rect x="106.05" y="569.31" width="4.80" height="4.80" fill="#000" stroke="none" stroke-width="1" />
<rect x="129.15" y="549.66" width="4.80" height="4.80" fill="#000" stroke="none" stroke-width="1" />
<rect x="152.25" y="559.49" width="4.80" height="4.80" fill="#000" stroke="none" stroke-width="1" />
<rect x="175.35" y="575.21" width="4.80" height="4.80" fill="#000" stroke="none" stroke-width="1" />
<rect x="198.45" y="598.80" width="4.80" height="4.80" fill="#000" stroke="none" stroke-width="1" />
<text x="124.00" y="690.00" font-size="8.8" font-weight="bold" font-style="normal" text-anchor="middle" fill="#333" >I (mA)</text>
<text x="0" y="0" transform="translate(10.00,604.00) rotate(-90)" font-size="8.8" font-weight="bold" text-anchor="middle" fill="#333">Yield (%)</text>
<line x1="441.70" y1="664.73" x2="439.90" y2="664.73" stroke="#262626" stroke-width="0.9" />
<line x1="441.70" y1="654.19" x2="439.90" y2="654.19" stroke="#262626" stroke-width="0.9" />
<line x1="441.70" y1="643.65" x2="439.90" y2="643.65" stroke="#262626" stroke-width="0.9" />
<line x1="441.70" y1="633.12" x2="439.90" y2="633.12" stroke="#262626" stroke-width="0.9" />
<line x1="441.70" y1="622.58" x2="439.90" y2="622.58" stroke="#262626" stroke-width="0.9" />
<line x1="441.70" y1="612.04" x2="439.90" y2="612.04" stroke="#262626" stroke-width="0.9" />
<line x1="441.70" y1="601.50" x2="439.90" y2="601.50" stroke="#262626" stroke-width="0.9" />
<line x1="441.70" y1="590.96" x2="439.90" y2="590.96" stroke="#262626" stroke-width="0.9" />
<line x1="441.70" y1="580.42" x2="439.90" y2="580.42" stroke="#262626" stroke-width="0.9" />
<line x1="441.70" y1="569.88" x2="439.90" y2="569.88" stroke="#262626" stroke-width="0.9" />
<line x1="441.70" y1="559.35" x2="439.90" y2="559.35" stroke="#262626" stroke-width="0.9" />
<line x1="441.70" y1="548.81" x2="439.90" y2="548.81" stroke="#262626" stroke-width="0.9" />
<line x1="441.70" y1="538.27" x2="439.90" y2="538.27" stroke="#262626" stroke-width="0.9" />
<line x1="441.70" y1="659.46" x2="438.70" y2="659.46" stroke="#262626" stroke-width="0.9" />
<text x="444.60" y="662.16" font-size="8.0" font-weight="bold" font-style="normal" text-anchor="start" fill="#333" >0.8</text>
<line x1="441.70" y1="638.38" x2="438.70" y2="638.38" stroke="#262626" stroke-width="0.9" />
<text x="444.60" y="641.08" font-size="8.0" font-weight="bold" font-style="normal" text-anchor="start" fill="#333" >1.0</text>
<line x1="441.70" y1="617.31" x2="438.70" y2="617.31" stroke="#262626" stroke-width="0.9" />
<text x="444.60" y="620.01" font-size="8.0" font-weight="bold" font-style="normal" text-anchor="start" fill="#333" >1.2</text>
<line x1="441.70" y1="596.23" x2="438.70" y2="596.23" stroke="#262626" stroke-width="0.9" />
<text x="444.60" y="598.93" font-size="8.0" font-weight="bold" font-style="normal" text-anchor="start" fill="#333" >1.4</text>
<line x1="441.70" y1="575.15" x2="438.70" y2="575.15" stroke="#262626" stroke-width="0.9" />
<text x="444.60" y="577.85" font-size="8.0" font-weight="bold" font-style="normal" text-anchor="start" fill="#333" >1.6</text>
<line x1="441.70" y1="554.08" x2="438.70" y2="554.08" stroke="#262626" stroke-width="0.9" />
<text x="444.60" y="556.78" font-size="8.0" font-weight="bold" font-style="normal" text-anchor="start" fill="#333" >1.8</text>
<line x1="441.70" y1="533.00" x2="438.70" y2="533.00" stroke="#262626" stroke-width="0.9" />
<text x="444.60" y="535.70" font-size="8.0" font-weight="bold" font-style="normal" text-anchor="start" fill="#333" >2.0</text>
<line x1="283.36" y1="670.00" x2="283.36" y2="668.20" stroke="#262626" stroke-width="0.9" />
<line x1="307.72" y1="670.00" x2="307.72" y2="668.20" stroke="#262626" stroke-width="0.9" />
<line x1="332.08" y1="670.00" x2="332.08" y2="668.20" stroke="#262626" stroke-width="0.9" />
<line x1="356.44" y1="670.00" x2="356.44" y2="668.20" stroke="#262626" stroke-width="0.9" />
<line x1="380.80" y1="670.00" x2="380.80" y2="668.20" stroke="#262626" stroke-width="0.9" />
<line x1="405.16" y1="670.00" x2="405.16" y2="668.20" stroke="#262626" stroke-width="0.9" />
<line x1="429.52" y1="670.00" x2="429.52" y2="668.20" stroke="#262626" stroke-width="0.9" />
<line x1="271.18" y1="670.00" x2="271.18" y2="667.00" stroke="#262626" stroke-width="0.9" />
<line x1="295.54" y1="670.00" x2="295.54" y2="667.00" stroke="#262626" stroke-width="0.9" />
<line x1="319.90" y1="670.00" x2="319.90" y2="667.00" stroke="#262626" stroke-width="0.9" />
<line x1="344.26" y1="670.00" x2="344.26" y2="667.00" stroke="#262626" stroke-width="0.9" />
<line x1="368.62" y1="670.00" x2="368.62" y2="667.00" stroke="#262626" stroke-width="0.9" />
<line x1="392.98" y1="670.00" x2="392.98" y2="667.00" stroke="#262626" stroke-width="0.9" />
<line x1="417.34" y1="670.00" x2="417.34" y2="667.00" stroke="#262626" stroke-width="0.9" />
<line x1="441.70" y1="670.00" x2="441.70" y2="667.00" stroke="#262626" stroke-width="0.9" />
<line x1="259.00" y1="670.00" x2="260.80" y2="670.00" stroke="#262626" stroke-width="0.9" />
<line x1="259.00" y1="651.73" x2="260.80" y2="651.73" stroke="#262626" stroke-width="0.9" />
<line x1="259.00" y1="633.47" x2="260.80" y2="633.47" stroke="#262626" stroke-width="0.9" />
<line x1="259.00" y1="615.20" x2="260.80" y2="615.20" stroke="#262626" stroke-width="0.9" />
<line x1="259.00" y1="596.93" x2="260.80" y2="596.93" stroke="#262626" stroke-width="0.9" />
<line x1="259.00" y1="578.67" x2="260.80" y2="578.67" stroke="#262626" stroke-width="0.9" />
<line x1="259.00" y1="560.40" x2="260.80" y2="560.40" stroke="#262626" stroke-width="0.9" />
<line x1="259.00" y1="542.13" x2="260.80" y2="542.13" stroke="#262626" stroke-width="0.9" />
<line x1="259.00" y1="660.87" x2="262.00" y2="660.87" stroke="#262626" stroke-width="0.9" />
<line x1="259.00" y1="642.60" x2="262.00" y2="642.60" stroke="#262626" stroke-width="0.9" />
<line x1="259.00" y1="624.33" x2="262.00" y2="624.33" stroke="#262626" stroke-width="0.9" />
<line x1="259.00" y1="606.07" x2="262.00" y2="606.07" stroke="#262626" stroke-width="0.9" />
<line x1="259.00" y1="587.80" x2="262.00" y2="587.80" stroke="#262626" stroke-width="0.9" />
<line x1="259.00" y1="569.53" x2="262.00" y2="569.53" stroke="#262626" stroke-width="0.9" />
<line x1="259.00" y1="551.27" x2="262.00" y2="551.27" stroke="#262626" stroke-width="0.9" />
<line x1="259.00" y1="533.00" x2="262.00" y2="533.00" stroke="#262626" stroke-width="0.9" />
<rect x="259.00" y="533.00" width="182.70" height="137.00" fill="none" stroke="#262626" stroke-width="1.2" />
<text x="271.18" y="679.80" font-size="8.0" font-weight="bold" font-style="normal" text-anchor="middle" fill="#262626" >1.0</text>
<text x="295.54" y="679.80" font-size="8.0" font-weight="bold" font-style="normal" text-anchor="middle" fill="#262626" >1.5</text>
<text x="319.90" y="679.80" font-size="8.0" font-weight="bold" font-style="normal" text-anchor="middle" fill="#262626" >2.0</text>
<text x="344.26" y="679.80" font-size="8.0" font-weight="bold" font-style="normal" text-anchor="middle" fill="#262626" >2.5</text>
<text x="368.62" y="679.80" font-size="8.0" font-weight="bold" font-style="normal" text-anchor="middle" fill="#262626" >3.0</text>
<text x="392.98" y="679.80" font-size="8.0" font-weight="bold" font-style="normal" text-anchor="middle" fill="#262626" >3.5</text>
<text x="417.34" y="679.80" font-size="8.0" font-weight="bold" font-style="normal" text-anchor="middle" fill="#262626" >4.0</text>
<text x="441.70" y="679.80" font-size="8.0" font-weight="bold" font-style="normal" text-anchor="middle" fill="#262626" >4.5</text>
<text x="255.00" y="663.37" font-size="8.0" font-weight="bold" font-style="normal" text-anchor="end" fill="#262626" >0</text>
<text x="255.00" y="645.10" font-size="8.0" font-weight="bold" font-style="normal" text-anchor="end" fill="#262626" >10</text>
<text x="255.00" y="626.83" font-size="8.0" font-weight="bold" font-style="normal" text-anchor="end" fill="#262626" >20</text>
<text x="255.00" y="608.57" font-size="8.0" font-weight="bold" font-style="normal" text-anchor="end" fill="#262626" >30</text>
<text x="255.00" y="590.30" font-size="8.0" font-weight="bold" font-style="normal" text-anchor="end" fill="#262626" >40</text>
<text x="255.00" y="572.03" font-size="8.0" font-weight="bold" font-style="normal" text-anchor="end" fill="#262626" >50</text>
<text x="255.00" y="553.77" font-size="8.0" font-weight="bold" font-style="normal" text-anchor="end" fill="#262626" >60</text>
<text x="255.00" y="535.50" font-size="8.0" font-weight="bold" font-style="normal" text-anchor="end" fill="#262626" >70</text>
<path d="M271.18,655.03 L273.93,659.82 L268.43,659.82 Z" fill="#e00"/>
<path d="M276.05,654.03 L278.80,658.82 L273.30,658.82 Z" fill="#e00"/>
<path d="M280.92,652.53 L283.67,657.32 L278.17,657.32 Z" fill="#e00"/>
<path d="M285.80,651.53 L288.55,656.32 L283.05,656.32 Z" fill="#e00"/>
<path d="M290.67,650.63 L293.42,655.42 L287.92,655.42 Z" fill="#e00"/>
<path d="M295.54,649.33 L298.29,654.12 L292.79,654.12 Z" fill="#e00"/>
<path d="M300.41,648.03 L303.16,652.82 L297.66,652.82 Z" fill="#e00"/>
<path d="M305.28,646.63 L308.03,651.42 L302.53,651.42 Z" fill="#e00"/>
<path d="M310.16,645.23 L312.91,650.02 L307.41,650.02 Z" fill="#e00"/>
<path d="M315.03,643.73 L317.78,648.52 L312.28,648.52 Z" fill="#e00"/>
<path d="M319.90,642.53 L322.65,647.32 L317.15,647.32 Z" fill="#e00"/>
<path d="M324.77,640.03 L327.52,644.82 L322.02,644.82 Z" fill="#e00"/>
<path d="M329.64,637.93 L332.39,642.72 L326.89,642.72 Z" fill="#e00"/>
<path d="M334.52,634.73 L337.27,639.52 L331.77,639.52 Z" fill="#e00"/>
<path d="M339.39,631.63 L342.14,636.42 L336.64,636.42 Z" fill="#e00"/>
<path d="M344.26,628.43 L347.01,633.22 L341.51,633.22 Z" fill="#e00"/>
<path d="M349.13,625.53 L351.88,630.32 L346.38,630.32 Z" fill="#e00"/>
<path d="M354.00,622.03 L356.75,626.82 L351.25,626.82 Z" fill="#e00"/>
<path d="M358.88,619.03 L361.63,623.82 L356.13,623.82 Z" fill="#e00"/>
<path d="M363.75,616.03 L366.50,620.82 L361.00,620.82 Z" fill="#e00"/>
<path d="M368.62,612.63 L371.37,617.42 L365.87,617.42 Z" fill="#e00"/>
<path d="M373.49,609.03 L376.24,613.82 L370.74,613.82 Z" fill="#e00"/>
<path d="M378.36,604.43 L381.11,609.22 L375.61,609.22 Z" fill="#e00"/>
<path d="M383.24,600.63 L385.99,605.42 L380.49,605.42 Z" fill="#e00"/>
<path d="M388.11,596.03 L390.86,600.82 L385.36,600.82 Z" fill="#e00"/>
<path d="M392.98,592.03 L395.73,596.82 L390.23,596.82 Z" fill="#e00"/>
<path d="M397.85,587.03 L400.60,591.82 L395.10,591.82 Z" fill="#e00"/>
<path d="M402.72,582.03 L405.47,586.82 L399.97,586.82 Z" fill="#e00"/>
<path d="M407.60,575.63 L410.35,580.42 L404.85,580.42 Z" fill="#e00"/>
<path d="M412.47,569.63 L415.22,574.42 L409.72,574.42 Z" fill="#e00"/>
<path d="M417.34,563.43 L420.09,568.22 L414.59,568.22 Z" fill="#e00"/>
<path d="M422.21,557.03 L424.96,561.82 L419.46,561.82 Z" fill="#e00"/>
<path d="M427.08,548.43 L429.83,553.22 L424.33,553.22 Z" fill="#e00"/>
<rect x="269.18" y="658.87" width="4.00" height="4.00" fill="#000" stroke="none" stroke-width="1" />
<rect x="274.05" y="658.87" width="4.00" height="4.00" fill="#000" stroke="none" stroke-width="1" />
<rect x="278.92" y="658.87" width="4.00" height="4.00" fill="#000" stroke="none" stroke-width="1" />
<rect x="283.80" y="658.87" width="4.00" height="4.00" fill="#000" stroke="none" stroke-width="1" />
<rect x="288.67" y="658.87" width="4.00" height="4.00" fill="#000" stroke="none" stroke-width="1" />
<rect x="293.54" y="657.04" width="4.00" height="4.00" fill="#000" stroke="none" stroke-width="1" />
<rect x="298.41" y="657.04" width="4.00" height="4.00" fill="#000" stroke="none" stroke-width="1" />
<rect x="303.28" y="655.40" width="4.00" height="4.00" fill="#000" stroke="none" stroke-width="1" />
<rect x="308.16" y="653.20" width="4.00" height="4.00" fill="#000" stroke="none" stroke-width="1" />
<rect x="313.03" y="649.73" width="4.00" height="4.00" fill="#000" stroke="none" stroke-width="1" />
<rect x="317.90" y="646.08" width="4.00" height="4.00" fill="#000" stroke="none" stroke-width="1" />
<rect x="322.77" y="640.23" width="4.00" height="4.00" fill="#000" stroke="none" stroke-width="1" />
<rect x="327.64" y="636.40" width="4.00" height="4.00" fill="#000" stroke="none" stroke-width="1" />
<rect x="332.52" y="632.75" width="4.00" height="4.00" fill="#000" stroke="none" stroke-width="1" />
<rect x="337.39" y="627.63" width="4.00" height="4.00" fill="#000" stroke="none" stroke-width="1" />
<rect x="342.26" y="623.98" width="4.00" height="4.00" fill="#000" stroke="none" stroke-width="1" />
<rect x="347.13" y="620.14" width="4.00" height="4.00" fill="#000" stroke="none" stroke-width="1" />
<rect x="352.00" y="616.67" width="4.00" height="4.00" fill="#000" stroke="none" stroke-width="1" />
<rect x="356.88" y="611.01" width="4.00" height="4.00" fill="#000" stroke="none" stroke-width="1" />
<rect x="361.75" y="605.53" width="4.00" height="4.00" fill="#000" stroke="none" stroke-width="1" />
<rect x="366.62" y="600.05" width="4.00" height="4.00" fill="#000" stroke="none" stroke-width="1" />
<rect x="371.49" y="594.57" width="4.00" height="4.00" fill="#000" stroke="none" stroke-width="1" />
<rect x="376.36" y="588.91" width="4.00" height="4.00" fill="#000" stroke="none" stroke-width="1" />
<rect x="381.24" y="583.61" width="4.00" height="4.00" fill="#000" stroke="none" stroke-width="1" />
<rect x="386.11" y="577.95" width="4.00" height="4.00" fill="#000" stroke="none" stroke-width="1" />
<rect x="390.98" y="571.00" width="4.00" height="4.00" fill="#000" stroke="none" stroke-width="1" />
<rect x="395.85" y="561.51" width="4.00" height="4.00" fill="#000" stroke="none" stroke-width="1" />
<rect x="400.72" y="548.90" width="4.00" height="4.00" fill="#000" stroke="none" stroke-width="1" />
<rect x="405.60" y="571.00" width="4.00" height="4.00" fill="#000" stroke="none" stroke-width="1" />
<rect x="410.47" y="591.46" width="4.00" height="4.00" fill="#000" stroke="none" stroke-width="1" />
<rect x="415.34" y="609.55" width="4.00" height="4.00" fill="#000" stroke="none" stroke-width="1" />
<rect x="420.21" y="627.63" width="4.00" height="4.00" fill="#000" stroke="none" stroke-width="1" />
<rect x="425.08" y="638.59" width="4.00" height="4.00" fill="#000" stroke="none" stroke-width="1" />
<ellipse cx="395" cy="567" rx="5.4" ry="15" fill="none" stroke="#111" stroke-width="1.1"/>
<ellipse cx="381" cy="606.8" rx="5.4" ry="14.8" fill="none" stroke="#111" stroke-width="1.1"/>
<path d="M395,552 L371.5,552 M375.5,549.3 L371.2,552 L375.5,554.7" stroke="#111" stroke-width="1.1" fill="none" />
<path d="M381,621.6 L404.5,621.6 M400.5,618.9 L404.8,621.6 L400.5,624.3" stroke="#111" stroke-width="1.1" fill="none" />
<text x="337.7" y="686.6" font-size="8.4" fill="#333"><tspan font-style="italic" font-weight="bold" font-size="8.8">U</tspan><tspan font-size="5" dy="3.4" font-weight="bold">cell</tspan><tspan dy="-3.4"> (V)</tspan></text>
<text x="0" y="0" transform="translate(242.60,604.50) rotate(-90)" font-size="8.7" font-weight="normal" text-anchor="middle" fill="#333">Yield (%)</text>
<text x="0" y="0" transform="translate(463.20,605.00) rotate(-90)" font-size="8.7" font-weight="normal" text-anchor="middle" fill="#333"><tspan font-style="italic">U</tspan><tspan font-size="5.6" dy="2.5">a,l</tspan><tspan dy="-2.5"> (V)</tspan></text>
<line x1="512.32" y1="667.00" x2="512.32" y2="665.20" stroke="#262626" stroke-width="0.9" />
<line x1="549.36" y1="667.00" x2="549.36" y2="665.20" stroke="#262626" stroke-width="0.9" />
<line x1="586.40" y1="667.00" x2="586.40" y2="665.20" stroke="#262626" stroke-width="0.9" />
<line x1="623.44" y1="667.00" x2="623.44" y2="665.20" stroke="#262626" stroke-width="0.9" />
<line x1="660.48" y1="667.00" x2="660.48" y2="665.20" stroke="#262626" stroke-width="0.9" />
<line x1="493.80" y1="667.00" x2="493.80" y2="664.00" stroke="#262626" stroke-width="0.9" />
<line x1="530.84" y1="667.00" x2="530.84" y2="664.00" stroke="#262626" stroke-width="0.9" />
<line x1="567.88" y1="667.00" x2="567.88" y2="664.00" stroke="#262626" stroke-width="0.9" />
<line x1="604.92" y1="667.00" x2="604.92" y2="664.00" stroke="#262626" stroke-width="0.9" />
<line x1="641.96" y1="667.00" x2="641.96" y2="664.00" stroke="#262626" stroke-width="0.9" />
<line x1="679.00" y1="667.00" x2="679.00" y2="664.00" stroke="#262626" stroke-width="0.9" />
<line x1="493.80" y1="657.87" x2="495.60" y2="657.87" stroke="#262626" stroke-width="0.9" />
<line x1="493.80" y1="639.60" x2="495.60" y2="639.60" stroke="#262626" stroke-width="0.9" />
<line x1="493.80" y1="621.33" x2="495.60" y2="621.33" stroke="#262626" stroke-width="0.9" />
<line x1="493.80" y1="603.07" x2="495.60" y2="603.07" stroke="#262626" stroke-width="0.9" />
<line x1="493.80" y1="584.80" x2="495.60" y2="584.80" stroke="#262626" stroke-width="0.9" />
<line x1="493.80" y1="566.53" x2="495.60" y2="566.53" stroke="#262626" stroke-width="0.9" />
<line x1="493.80" y1="548.27" x2="495.60" y2="548.27" stroke="#262626" stroke-width="0.9" />
<line x1="493.80" y1="530.00" x2="495.60" y2="530.00" stroke="#262626" stroke-width="0.9" />
<line x1="493.80" y1="667.00" x2="496.80" y2="667.00" stroke="#262626" stroke-width="0.9" />
<line x1="493.80" y1="648.73" x2="496.80" y2="648.73" stroke="#262626" stroke-width="0.9" />
<line x1="493.80" y1="630.47" x2="496.80" y2="630.47" stroke="#262626" stroke-width="0.9" />
<line x1="493.80" y1="612.20" x2="496.80" y2="612.20" stroke="#262626" stroke-width="0.9" />
<line x1="493.80" y1="593.93" x2="496.80" y2="593.93" stroke="#262626" stroke-width="0.9" />
<line x1="493.80" y1="575.67" x2="496.80" y2="575.67" stroke="#262626" stroke-width="0.9" />
<line x1="493.80" y1="557.40" x2="496.80" y2="557.40" stroke="#262626" stroke-width="0.9" />
<line x1="493.80" y1="539.13" x2="496.80" y2="539.13" stroke="#262626" stroke-width="0.9" />
<rect x="493.80" y="530.00" width="185.20" height="137.00" fill="none" stroke="#262626" stroke-width="1.2" />
<text x="493.80" y="676.80" font-size="8.0" font-weight="bold" font-style="normal" text-anchor="middle" fill="#262626" >0.5</text>
<text x="530.84" y="676.80" font-size="8.0" font-weight="bold" font-style="normal" text-anchor="middle" fill="#262626" >1.0</text>
<text x="567.88" y="676.80" font-size="8.0" font-weight="bold" font-style="normal" text-anchor="middle" fill="#262626" >1.5</text>
<text x="604.92" y="676.80" font-size="8.0" font-weight="bold" font-style="normal" text-anchor="middle" fill="#262626" >2.0</text>
<text x="641.96" y="676.80" font-size="8.0" font-weight="bold" font-style="normal" text-anchor="middle" fill="#262626" >2.5</text>
<text x="679.00" y="676.80" font-size="8.0" font-weight="bold" font-style="normal" text-anchor="middle" fill="#262626" >3.0</text>
<text x="490.60" y="669.50" font-size="8.0" font-weight="bold" font-style="normal" text-anchor="end" fill="#262626" >-20</text>
<text x="490.60" y="651.23" font-size="8.0" font-weight="bold" font-style="normal" text-anchor="end" fill="#262626" >0</text>
<text x="490.60" y="632.97" font-size="8.0" font-weight="bold" font-style="normal" text-anchor="end" fill="#262626" >20</text>
<text x="490.60" y="614.70" font-size="8.0" font-weight="bold" font-style="normal" text-anchor="end" fill="#262626" >40</text>
<text x="490.60" y="596.43" font-size="8.0" font-weight="bold" font-style="normal" text-anchor="end" fill="#262626" >60</text>
<text x="490.60" y="578.17" font-size="8.0" font-weight="bold" font-style="normal" text-anchor="end" fill="#262626" >80</text>
<text x="490.60" y="559.90" font-size="8.0" font-weight="bold" font-style="normal" text-anchor="end" fill="#262626" >100</text>
<text x="490.60" y="541.63" font-size="8.0" font-weight="bold" font-style="normal" text-anchor="end" fill="#262626" >120</text>
<text x="559" y="685" font-size="8.8" font-weight="bold" fill="#333"><tspan font-style="italic">E</tspan> (V vs. SCE)</text>
<text x="0" y="0" transform="translate(477.50,602.50) rotate(-90)" font-size="8.8" font-weight="bold" text-anchor="middle" fill="#333"><tspan font-style="italic">I</tspan> (μA)</text>
<line x1="508.00" y1="543.40" x2="524.00" y2="543.40" stroke="#222" stroke-width="1.3" />
<line x1="508.00" y1="553.20" x2="524.00" y2="553.20" stroke="#ff1a1a" stroke-width="1.3" />
<text x="527.00" y="546.30" font-size="8" font-weight="bold" font-style="normal" text-anchor="start" fill="#333" >5e</text>
<text x="527.00" y="556.10" font-size="8" font-weight="bold" font-style="normal" text-anchor="start" fill="#333" >6a</text>
<text x="3" y="712" font-size="9.6" fill="#1a1a1a"><tspan font-weight="bold" font-size="10.3">h</tspan> Reductive elimination of <tspan font-weight="bold">5e</tspan> <tspan font-style="italic">via</tspan> chemical oxidation</text>
<defs><linearGradient id="pg" x1="0" x2="1" y1="0" y2="0">
<stop offset="0" stop-color="#5b9bd6"/><stop offset="0.15" stop-color="#6e86bf"/><stop offset="0.30" stop-color="#8a6898"/>
<stop offset="0.47" stop-color="#a84470"/><stop offset="0.64" stop-color="#c0284a"/><stop offset="0.82" stop-color="#d40f2a"/>
<stop offset="0.91" stop-color="#c00820"/><stop offset="1" stop-color="#980008"/></linearGradient></defs>
<rect x="21.10" y="772.00" width="327.20" height="23.30" fill="url(#pg)" stroke="none" stroke-width="1" />
<text x="122" y="787.2" font-size="9.5" font-weight="bold" fill="#fff">Potential (V vs. SCE, MeCN)</text>
<rect x="37.30" y="795.30" width="2.00" height="4.80" fill="#111" stroke="none" stroke-width="1" />
<text x="38.30" y="809.00" font-size="8.8" font-weight="normal" font-style="normal" text-anchor="middle" fill="#222" >0</text>
<rect x="133.40" y="795.30" width="2.00" height="4.80" fill="#111" stroke="none" stroke-width="1" />
<text x="134.40" y="809.00" font-size="8.8" font-weight="normal" font-style="normal" text-anchor="middle" fill="#222" >0.5</text>
<rect x="230.20" y="795.30" width="2.00" height="4.80" fill="#111" stroke="none" stroke-width="1" />
<text x="231.20" y="809.00" font-size="8.8" font-weight="normal" font-style="normal" text-anchor="middle" fill="#222" >1.0</text>
<rect x="327.30" y="795.30" width="2.00" height="4.80" fill="#111" stroke="none" stroke-width="1" />
<text x="328.30" y="809.00" font-size="8.8" font-weight="normal" font-style="normal" text-anchor="middle" fill="#222" >1.5</text>
<text x="51" y="735" font-size="9.5" text-anchor="middle" fill="#222">Ag/Ag<tspan font-size="7" dy="-3.8">+</tspan></text>
<text x="51.00" y="748.00" font-size="9.5" font-weight="bold" font-style="normal" text-anchor="middle" fill="#222" >(0.44)</text>
<text x="127.8" y="735" font-size="9.5" text-anchor="middle" fill="#222">[DDQ]<tspan font-size="7" dy="-3.8">·</tspan><tspan dy="3.8">/DDQ</tspan></text>
<text x="127.80" y="748.00" font-size="9.5" font-weight="bold" font-style="normal" text-anchor="middle" fill="#222" >(0.53)</text>
<text x="214.7" y="735" font-size="9.5" text-anchor="middle" fill="#222"><tspan font-style="italic">E</tspan><tspan font-size="6" dy="2.5">1</tspan><tspan font-size="6.5" dy="-6">OX</tspan><tspan font-size="6.5" dy="6">1/2</tspan><tspan dy="-2.5">(</tspan><tspan font-weight="bold">5e</tspan>)</text>
<text x="214.00" y="746.70" font-size="9.5" font-weight="bold" font-style="normal" text-anchor="middle" fill="#222" >(1.18)</text>
<text x="320" y="735" font-size="9.5" text-anchor="middle" fill="#222">NO/NO<tspan font-size="7" dy="-3.8">+</tspan></text>
<text x="320.00" y="746.70" font-size="9.5" font-weight="bold" font-style="normal" text-anchor="middle" fill="#222" >(1.27)</text>
<path d="M52.2,751.2 L52.2,757.9 L120.5,757.9 L120.5,763" stroke="#262626" stroke-width="2.1" fill="none" stroke-linejoin="miter"/>
<path d="M116.1,762.6 L124.9,762.6 L120.5,771 Z" fill="#111"/>
<path d="M129.3,751.2 L129.3,757.9 L143.5,757.9 L143.5,763" stroke="#262626" stroke-width="2.1" fill="none" stroke-linejoin="miter"/>
<path d="M139.1,762.6 L147.9,762.6 L143.5,771 Z" fill="#111"/>
<path d="M214,750 L214,757.9 L264.3,757.9 L264.3,763" stroke="#262626" stroke-width="2.1" fill="none" stroke-linejoin="miter"/>
<path d="M259.90000000000003,762.6 L268.7,762.6 L264.3,771 Z" fill="#111"/>
<path d="M320.5,750 L320.5,757.9 L285.3,757.9 L285.3,763" stroke="#262626" stroke-width="2.1" fill="none" stroke-linejoin="miter"/>
<path d="M280.90000000000003,762.6 L289.7,762.6 L285.3,771 Z" fill="#111"/>
<text x="438.60" y="745.00" font-size="9.4" font-weight="bold" font-style="normal" text-anchor="middle" fill="#222" >5e</text>
<text x="638.00" y="744.20" font-size="9.4" font-weight="bold" font-style="normal" text-anchor="middle" fill="#222" >6a</text>
<line x1="475.00" y1="739.10" x2="600.00" y2="739.10" stroke="#262626" stroke-width="1.0" />
<path d="M604.5,739.1 L596.5,736.8 L596.5,741.4 Z" fill="#222"/>
<text x="538.00" y="733.40" font-size="9.5" font-weight="normal" font-style="normal" text-anchor="middle" fill="#222" >Oxidant (1.0 equiv)</text>
<text x="538.00" y="753.90" font-size="9.5" font-weight="normal" font-style="normal" text-anchor="middle" fill="#222" >MeCN, r.t., 3 h</text>
<text x="428.40" y="777.00" font-size="9.5" font-weight="normal" font-style="normal" text-anchor="middle" fill="#222" >Oxidant</text>
<text x="483.00" y="777.00" font-size="9.5" font-weight="normal" font-style="normal" text-anchor="middle" fill="#222" >AgOAc</text>
<text x="536.00" y="777.00" font-size="9.5" font-weight="normal" font-style="normal" text-anchor="middle" fill="#222" >AgOTFA</text>
<text x="589.70" y="777.00" font-size="9.5" font-weight="normal" font-style="normal" text-anchor="middle" fill="#222" >DDQ</text>
<text x="641.2" y="777" font-size="9.5" text-anchor="middle" fill="#222">NOPF<tspan font-size="6.5" dy="2.2">6</tspan></text>
<line x1="399.40" y1="784.40" x2="667.50" y2="784.40" stroke="#262626" stroke-width="1.7" />
<text x="428.4" y="803.2" font-size="9.5" text-anchor="middle" fill="#222">Yield of <tspan font-weight="bold">6a</tspan></text>
<text x="482.40" y="803.20" font-size="9.5" font-weight="normal" font-style="normal" text-anchor="middle" fill="#222" >n.d.</text>
<text x="538.50" y="803.20" font-size="9.5" font-weight="normal" font-style="normal" text-anchor="middle" fill="#222" >n.d.</text>
<text x="589.70" y="803.20" font-size="9.5" font-weight="normal" font-style="normal" text-anchor="middle" fill="#222" >n.d.</text>
<text x="642.30" y="803.20" font-size="9.5" font-weight="normal" font-style="normal" text-anchor="middle" fill="#222" >64%</text>
</svg>
</body></html>
